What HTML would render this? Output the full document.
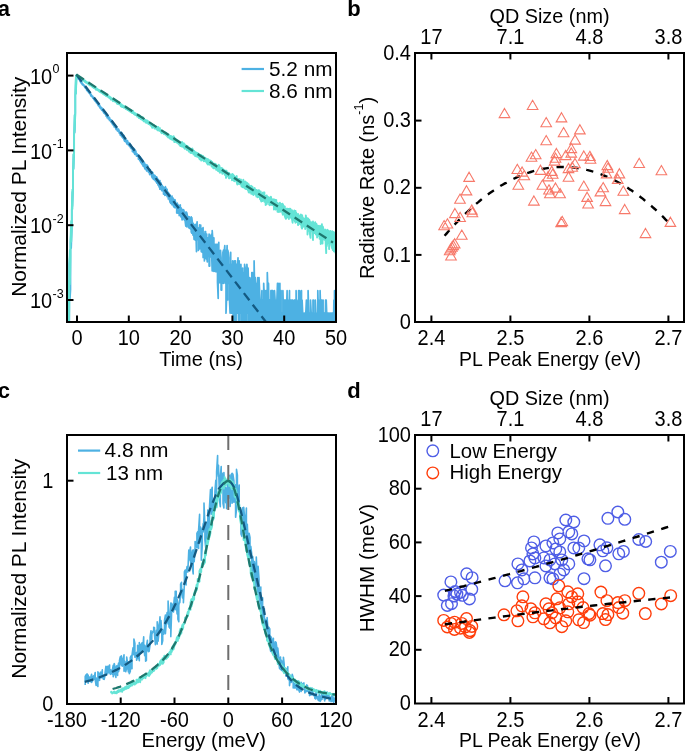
<!DOCTYPE html>
<html><head><meta charset="utf-8"><title>Figure</title>
<style>html,body{margin:0;padding:0;background:#fff;width:685px;height:752px;overflow:hidden;font-family:"Liberation Sans", sans-serif;}</style>
</head><body>
<svg width="685" height="752" viewBox="0 0 685 752" style="display:block;will-change:transform">
<rect width="685" height="752" fill="#fff"/>
<g font-family='"Liberation Sans", sans-serif' fill="#000">
<text x="-2.3" y="15.8" font-size="22" text-anchor="start" font-weight="bold">a</text>
<text x="347.3" y="15.8" font-size="22" text-anchor="start" font-weight="bold">b</text>
<text x="-2.2" y="397.8" font-size="22" text-anchor="start" font-weight="bold">c</text>
<text x="347.2" y="397.6" font-size="22" text-anchor="start" font-weight="bold">d</text>
</g>
<defs><clipPath id="ca"><rect x="67" y="53" width="269" height="269"/></clipPath><clipPath id="cc"><rect x="67" y="435" width="269" height="269"/></clipPath><clipPath id="cb"><rect x="415" y="53" width="269" height="269"/></clipPath><clipPath id="cd"><rect x="415" y="435" width="269" height="269"/></clipPath></defs>
<g clip-path="url(#ca)" fill="none" stroke-linejoin="round">
<path d="M66.9 344.9 L66.9 313.2 L67.5 313.2 L67.5 344.9 L68.1 344.9 L68.1 335.7 L68.7 300 L68.7 344.9 L69.3 344.9 L69.3 264.3 L69.9 255 L69.9 300 L70.5 289.6 L70.5 242.6 L71.2 228.4 L71.2 248.2 L71.8 229.7 L71.8 210.3 L72.4 191.9 L72.4 206.2 L73 189.4 L73 171.7 L73.5 154.4 L73.5 169.1 L74.1 153.1 L74.1 135.4 L74.7 114.8 L74.7 132.8 L75.3 113 L75.3 95.9 L75.9 76.1 L75.9 93.7 L76.5 76.4 L76.5 75.4 L77.1 76.1 L77.1 77.1 L77.8 78 L77.8 76.9 L78.4 77.7 L78.4 79 L79 79.4 L79 78.5 L79.6 79.3 L79.6 80.1 L80.1 81.5 L80.1 79.7 L80.7 81 L80.7 82 L81.3 83.2 L81.3 81.7 L81.9 82.4 L81.9 83.8 L82.5 84.9 L82.5 83.5 L83.1 84.2 L83.1 85.2 L83.7 85.7 L83.7 84.8 L84.4 85.6 L84.4 86.6 L85 87.7 L85 86.6 L85.6 87.1 L85.6 88.5 L86.2 88.8 L86.2 88.1 L86.7 89 L86.7 90.4 L87.3 90.3 L87.3 89.7 L87.9 90 L87.9 91.5 L88.5 92.2 L88.5 90.8 L89.1 91.9 L89.1 93.2 L89.7 93.7 L89.7 92.7 L90.3 93.2 L90.3 94.5 L90.9 95.8 L90.9 94 L91.6 95.3 L91.6 96.4 L92.2 97 L92.2 96 L92.8 96.2 L92.8 97.9 L93.3 98.6 L93.3 97.1 L93.9 98 L93.9 99.4 L94.5 100.1 L94.5 99 L95.1 99.9 L95.1 101.2 L95.7 101.7 L95.7 100 L96.3 101.2 L96.3 102.6 L96.9 103.2 L96.9 101.5 L97.5 102.7 L97.5 104 L98.2 105.5 L98.2 102.9 L98.8 104 L98.8 105.7 L99.4 106.8 L99.4 105.1 L99.9 105.4 L99.9 107.8 L100.5 108.3 L100.5 106.9 L101.1 107.6 L101.1 108.8 L101.7 110 L101.7 107.7 L102.3 108.5 L102.3 110.5 L102.9 111.2 L102.9 109.1 L103.5 110.7 L103.5 112.4 L104.1 113.1 L104.1 111.6 L104.8 111.5 L104.8 113.7 L105.4 114.3 L105.4 112.3 L106 113.6 L106 116 L106.5 116.3 L106.5 114.9 L107.1 115.6 L107.1 117.7 L107.7 117.6 L107.7 116.1 L108.3 116.2 L108.3 118.9 L108.9 119 L108.9 117.2 L109.5 117.5 L109.5 120.4 L110.1 120.4 L110.1 119 L110.7 119.7 L110.7 121.4 L111.4 122.4 L111.4 120.1 L112 121.6 L112 123.2 L112.6 124.2 L112.6 121.7 L113.1 123.6 L113.1 125 L113.7 125.6 L113.7 123.9 L114.3 124.3 L114.3 127 L114.9 126.9 L114.9 125.2 L115.5 126.1 L115.5 127.7 L116.1 129.5 L116.1 126.8 L116.7 127.2 L116.7 129.2 L117.3 130.6 L117.3 128.8 L118 129 L118 131.2 L118.6 131.6 L118.6 129.2 L119.2 130.7 L119.2 133.1 L119.7 133.5 L119.7 131.5 L120.3 132.2 L120.3 135.2 L120.9 135.4 L120.9 133.4 L121.5 134.2 L121.5 136.1 L122.1 137.1 L122.1 133.1 L122.7 135.3 L122.7 137.8 L123.3 137.3 L123.3 136.3 L123.9 135.4 L123.9 139.4 L124.6 141.1 L124.6 137.7 L125.2 138.7 L125.2 141.5 L125.8 141.9 L125.8 139.5 L126.4 140.5 L126.4 142.4 L126.9 143.9 L126.9 140.8 L127.5 140.6 L127.5 142.9 L128.1 144.6 L128.1 142 L128.7 142.6 L128.7 145 L129.3 146.1 L129.3 142.8 L129.9 144.5 L129.9 146.1 L130.5 147.7 L130.5 145.3 L131.2 145.4 L131.2 148.6 L131.8 148.6 L131.8 147 L132.4 147.5 L132.4 151.5 L133 151.8 L133 148.1 L133.5 148.1 L133.5 152.5 L134.1 152.9 L134.1 148.6 L134.7 149.6 L134.7 154.3 L135.3 154.1 L135.3 150.4 L135.9 151.2 L135.9 154.3 L136.5 156 L136.5 153.3 L137.1 153.9 L137.1 156.1 L137.8 156.1 L137.8 154.5 L138.4 155.1 L138.4 159.1 L139 158.3 L139 155.8 L139.6 156.9 L139.6 160.2 L140.1 161.1 L140.1 156.6 L140.7 158.1 L140.7 162.3 L141.3 163 L141.3 158.3 L141.9 160.1 L141.9 163.8 L142.5 164.8 L142.5 160.1 L143.1 161.7 L143.1 166.1 L143.7 165.9 L143.7 162.1 L144.4 162.7 L144.4 167.5 L145 168.9 L145 164.2 L145.6 164.3 L145.6 168.4 L146.2 169.8 L146.2 165.3 L146.7 165.2 L146.7 171 L147.3 169.5 L147.3 165.2 L147.9 166.3 L147.9 170.5 L148.5 172.1 L148.5 168.7 L149.1 168.5 L149.1 171.5 L149.7 174.7 L149.7 170.7 L150.3 169.7 L150.3 173.4 L150.9 174.3 L150.9 171.8 L151.6 172.3 L151.6 175.9 L152.2 177.6 L152.2 171.9 L152.8 172.7 L152.8 178.2 L153.3 179.1 L153.3 174.3 L153.9 174.8 L153.9 179.5 L154.5 179.8 L154.5 175.6 L155.1 175.7 L155.1 180.5 L155.7 181.3 L155.7 176.9 L156.3 176.8 L156.3 182 L156.9 183.2 L156.9 177.2 L157.5 180.2 L157.5 183.1 L158.2 185.3 L158.2 179.3 L158.8 181.5 L158.8 185.7 L159.4 187.4 L159.4 182.6 L159.9 180.5 L159.9 189.2 L160.5 188.6 L160.5 182.3 L161.1 183.5 L161.1 189 L161.7 190.5 L161.7 185.5 L162.3 185.3 L162.3 190 L162.9 191.1 L162.9 186.5 L163.5 187.2 L163.5 194.1 L164.1 193.4 L164.1 187.9 L164.8 189.2 L164.8 195.3 L165.4 195.2 L165.4 186.7 L166 188.5 L166 194.3 L166.5 195.1 L166.5 192.5 L167.1 189.3 L167.1 196.6 L167.7 196.8 L167.7 192.5 L168.3 192.4 L168.3 198.9 L168.9 197.1 L168.9 193.3 L169.5 195.4 L169.5 199.8 L170.1 202.3 L170.1 194.9 L170.7 197.8 L170.7 203.3 L171.4 203.3 L171.4 197.7 L172 196.1 L172 204.7 L172.6 204.1 L172.6 198.7 L173.1 198.2 L173.1 204.5 L173.7 206.8 L173.7 199.3 L174.3 201.2 L174.3 206.7 L174.9 207.7 L174.9 199.5 L175.5 201.9 L175.5 205.2 L176.1 207.9 L176.1 204.3 L176.7 205 L176.7 213 L177.3 210.1 L177.3 203.1 L178 209 L178 213.2 L178.6 211 L178.6 205.2 L179.2 206 L179.2 215.6 L179.7 213.4 L179.7 205.9 L180.3 205 L180.3 213 L180.9 216.9 L180.9 207.5 L181.5 209 L181.5 214.5 L182.1 219.9 L182.1 209.3 L182.7 210.3 L182.7 218.7 L183.3 216.8 L183.3 209.7 L183.9 210.1 L183.9 219.3 L184.6 220.2 L184.6 211.9 L185.2 212.3 L185.2 221.7 L185.8 226.1 L185.8 214.7 L186.4 212.2 L186.4 223.2 L186.9 227 L186.9 212.8 L187.5 217.3 L187.5 222.8 L188.1 225.6 L188.1 216.4 L188.7 216.8 L188.7 227.7 L189.3 228.2 L189.3 216.8 L189.9 221.4 L189.9 228.3 L190.5 228.9 L190.5 220.4 L191.2 216.8 L191.2 231.8 L191.8 233.2 L191.8 217.5 L192.4 222.9 L192.4 229.7 L193 235.1 L193 223 L193.5 224.6 L193.5 230.2 L194.1 239.5 L194.1 225.4 L194.7 224.9 L194.7 234.9 L195.3 240.2 L195.3 224.3 L195.9 225.9 L195.9 232.2 L196.5 251.6 L196.5 227.7 L197.1 221.8 L197.1 239.6 L197.8 233.8 L197.8 228 L198.4 228 L198.4 250.5 L199 241.9 L199 231.9 L199.6 224.9 L199.6 248.9 L200.1 245.6 L200.1 231.2 L200.7 225 L200.7 242.4 L201.3 251.8 L201.3 232.4 L201.9 228.5 L201.9 246.1 L202.5 252.4 L202.5 232.5 L203.1 227.7 L203.1 257.5 L203.7 250.7 L203.7 236.1 L204.4 233.9 L204.4 260.9 L205 248.9 L205 231.7 L205.6 231.7 L205.6 255.9 L206.2 258.8 L206.2 234 L206.7 234 L206.7 256.2 L207.3 262 L207.3 240.7 L207.9 237.9 L207.9 256.5 L208.5 254.2 L208.5 244 L209.1 234.1 L209.1 266.1 L209.7 266.1 L209.7 239.4 L210.3 235.3 L210.3 257 L210.9 254.6 L210.9 244.2 L211.6 234 L211.6 252.3 L212.2 270.9 L212.2 230.5 L212.8 239.4 L212.8 271 L213.3 260.4 L213.3 244.3 L213.9 237.9 L213.9 271.3 L214.5 263.7 L214.5 250.2 L215.1 244.3 L215.1 271.5 L215.7 271.6 L215.7 246.2 L216.3 244.3 L216.3 271.7 L216.9 271.8 L216.9 246.2 L217.5 244.3 L217.5 282.4 L218.2 298.5 L218.2 255.1 L218.8 242.4 L218.8 272 L219.4 277 L219.4 250.3 L219.9 255.1 L219.9 282.8 L220.5 272.2 L220.5 250.3 L221.1 257.9 L221.1 290.1 L221.7 290.2 L221.7 260.9 L222.3 268.1 L222.3 283.1 L222.9 277.3 L222.9 252.5 L223.5 250.1 L223.5 283.3 L224.1 277.4 L224.1 252.5 L224.8 245.7 L224.8 272.5 L225.4 283.4 L225.4 250 L226 257.8 L226 313.2 L226.5 300 L226.5 260.9 L227.1 245.6 L227.1 272.5 L227.7 300 L227.7 250 L228.3 252.4 L228.3 283.4 L228.9 283.4 L228.9 264.3 L229.5 268.1 L229.5 300 L230.1 313.2 L230.1 257.8 L230.7 252.4 L230.7 283.4 L231.4 313.2 L231.4 264.3 L232 264.3 L232 300 L232.6 313.2 L232.6 260.9 L233.1 268.1 L233.1 335.7 L233.7 290.7 L233.7 268.1 L234.3 260.9 L234.3 344.9 L234.9 300 L234.9 272.5 L235.5 260.9 L235.5 313.2 L236.1 335.7 L236.1 268.1 L236.7 264.3 L236.7 313.2 L237.3 313.2 L237.3 272.5 L238 257.8 L238 283.4 L238.6 335.7 L238.6 272.5 L239.2 260.9 L239.2 313.2 L239.7 335.7 L239.7 268.1 L240.3 268.1 L240.3 313.2 L240.9 313.2 L240.9 264.3 L241.5 283.4 L241.5 344.9 L242.1 335.7 L242.1 272.5 L242.7 268.1 L242.7 313.2 L243.3 335.7 L243.3 272.5 L243.9 272.5 L243.9 335.7 L244.6 335.7 L244.6 264.3 L245.2 268.1 L245.2 335.7 L245.8 335.7 L245.8 272.5 L246.4 277.5 L246.4 344.9 L246.9 335.7 L246.9 264.3 L247.5 272.5 L247.5 313.2 L248.1 313.2 L248.1 268.1 L248.7 290.7 L248.7 335.7 L249.3 313.2 L249.3 277.5 L249.9 283.4 L249.9 344.9 L250.5 344.9 L250.5 290.7 L251.2 277.5 L251.2 335.7 L251.8 335.7 L251.8 272.5 L252.4 272.5 L252.4 335.7 L253 344.9 L253 300 L253.5 277.5 L253.5 344.9 L254.1 335.7 L254.1 260.9 L254.7 290.7 L254.7 335.7 L255.3 335.7 L255.3 277.5 L255.9 283.4 L255.9 344.9 L256.5 344.9 L256.5 290.7 L257.1 283.4 L257.1 344.9 L257.8 344.9 L257.8 277.5 L258.4 290.7 L258.4 344.9 L259 335.7 L259 277.5 L259.6 290.7 L259.6 335.7 L260.1 335.7 L260.1 313.2 L260.7 300 L260.7 344.9 L261.3 335.7 L261.3 300 L261.9 290.7 L261.9 335.7 L262.5 335.7 L262.5 300 L263.1 300 L263.1 344.9 L263.7 344.9 L263.7 283.4 L264.4 300 L264.4 335.7 L265 344.9 L265 290.7 L265.6 300 L265.6 344.9 L266.2 335.7 L266.2 290.7 L266.7 300 L266.7 344.9 L267.3 344.9 L267.3 272.5 L267.9 290.7 L267.9 344.9 L268.5 344.9 L268.5 283.4 L269.1 313.2 L269.1 344.9 L269.7 344.9 L269.7 300 L270.3 300 L270.3 344.9 L270.9 344.9 L270.9 290.7 L271.6 290.7 L271.6 344.9 L272.2 344.9 L272.2 290.7 L272.8 290.7 L272.8 335.7 L273.3 344.9 L273.3 300 L273.9 313.2 L273.9 344.9 L274.5 335.7 L274.5 290.7 L275.1 300 L275.1 344.9 L275.7 344.9 L275.7 313.2 L276.3 300 L276.3 344.9 L276.9 344.9 L276.9 300 L277.5 283.4 L277.5 344.9 L278.2 344.9 L278.2 283.4 L278.8 290.7 L278.8 344.9 L279.4 344.9 L279.4 300 L279.9 283.4 L279.9 344.9 L280.5 344.9 L280.5 300 L281.1 290.7 L281.1 344.9 L281.7 344.9 L281.7 313.2 L282.3 313.2 L282.3 344.9 L282.9 344.9 L282.9 290.7 L283.5 313.2 L283.5 344.9 L284.1 344.9 L284.1 300 L284.8 300 L284.8 344.9 L285.4 344.9 L285.4 300 L286 300 L286 344.9 L286.5 344.9 L286.5 313.2 L287.1 290.7 L287.1 344.9 L287.7 344.9 L287.7 300 L288.3 335.7 L288.3 344.9 L288.9 335.7 L288.9 313.2 L289.5 290.7 L289.5 344.9 L290.1 344.9 L290.1 313.2 L290.7 300 L290.7 344.9 L291.4 344.9 L291.4 313.2 L292 300 L292 344.9 L292.6 344.9 L292.6 300 L293.1 313.2 L293.1 344.9 L293.7 344.9 L293.7 313.2 L294.3 300 L294.3 344.9 L294.9 344.9 L294.9 300 L295.5 313.2 L295.5 344.9 L296.1 344.9 L296.1 290.7 L296.7 335.7 L296.7 344.9 L297.3 344.9 L297.3 313.2 L298 300 L298 344.9 L298.6 344.9 L298.6 290.7 L299.2 313.2 L299.2 344.9 L299.7 344.9 L299.7 290.7 L300.3 300 L300.3 344.9 L300.9 344.9 L300.9 313.2 L301.5 290.7 L301.5 344.9 L302.1 344.9 L302.1 300 L302.7 313.2 L302.7 344.9 L303.3 344.9 L303.3 313.2 L303.9 335.7 L303.9 344.9 L304.6 344.9 L304.6 313.2 L305.2 313.2 L305.2 344.9 L305.8 344.9 L305.8 313.2 L306.4 300 L306.4 344.9 L306.9 344.9 L306.9 313.2 L307.5 313.2 L307.5 344.9 L308.1 344.9 L308.1 290.7 L308.7 313.2 L308.7 344.9 L309.3 344.9 L309.3 313.2 L309.9 313.2 L309.9 344.9 L310.5 344.9 L310.5 300 L311.2 313.2 L311.2 344.9 L311.8 344.9 L311.8 313.2 L312.4 313.2 L312.4 344.9 L313 344.9 L313 300 L313.5 300 L313.5 344.9 L314.1 344.9 L314.1 313.2 L314.7 335.7 L314.7 344.9 L315.3 344.9 L315.3 300 L315.9 313.2 L315.9 344.9 L316.5 344.9 L316.5 313.2 L317.1 335.7 L317.1 344.9 L317.8 344.9 L317.8 290.7 L318.4 313.2 L318.4 344.9 L319 344.9 L319 335.7 L319.6 300 L319.6 344.9 L320.1 344.9 L320.1 290.7 L320.7 313.2 L320.7 344.9 L321.3 344.9 L321.3 300 L321.9 300 L321.9 344.9 L322.5 344.9 L322.5 313.2 L323.1 300 L323.1 344.9 L323.7 344.9 L323.7 313.2 L324.4 313.2 L324.4 344.9 L325 344.9 L325 335.7 L325.6 300 L325.6 344.9 L326.2 344.9 L326.2 300 L326.7 313.2 L326.7 344.9 L327.3 344.9 L327.3 313.2 L327.9 313.2 L327.9 344.9 L328.5 344.9 L328.5 313.2 L329.1 335.7 L329.1 344.9 L329.7 344.9 L329.7 313.2 L330.3 313.2 L330.3 344.9 L330.9 344.9 L330.9 335.7 L331.6 313.2 L331.6 344.9 L332.2 344.9 L332.2 313.2 L332.8 313.2 L332.8 344.9 L333.3 344.9 L333.3 335.7 L333.9 300 L333.9 344.9 L334.5 344.9 L334.5 290.7 L335.1 300 L335.1 344.9 L335.7 344.9 L335.7 335.7" stroke="#4db1e3" stroke-width="1.7"/>
<path d="M66.9 329.8 L66.9 289.1 L67.5 289.1 L67.5 329.8 L68.1 344.9 L68.1 284.7 L68.7 280.9 L68.7 344.9 L69.3 306.8 L69.3 266.8 L69.9 250 L69.9 284.3 L70.5 256.8 L70.5 240 L71.2 221 L71.2 241.8 L71.8 227.9 L71.8 209.8 L72.4 189.6 L72.4 208.9 L73 187.2 L73 171.8 L73.5 154.3 L73.5 168.4 L74.1 152.6 L74.1 135.2 L74.7 115.3 L74.7 131 L75.3 112.9 L75.3 94.6 L75.9 76.8 L75.9 93.8 L76.5 76.4 L76.5 75 L77.1 75.9 L77.1 76.7 L77.8 76.9 L77.8 76 L78.4 76 L78.4 77.4 L79 77.8 L79 76.9 L79.6 77.3 L79.6 78.1 L80.1 78.6 L80.1 77.8 L80.7 77.8 L80.7 78.8 L81.3 79.2 L81.3 78.4 L81.9 78.9 L81.9 79.8 L82.5 80.5 L82.5 79.6 L83.1 79.6 L83.1 80.6 L83.7 80.5 L83.7 79.6 L84.4 80.7 L84.4 81.6 L85 81.9 L85 80.6 L85.6 81 L85.6 82.5 L86.2 82.7 L86.2 81.6 L86.7 82.1 L86.7 82.7 L87.3 83.5 L87.3 82.6 L87.9 82.4 L87.9 83.8 L88.5 84.2 L88.5 82.7 L89.1 82.8 L89.1 84.8 L89.7 85.3 L89.7 83.9 L90.3 84.3 L90.3 85.1 L90.9 85.6 L90.9 84.8 L91.6 85.4 L91.6 86.3 L92.2 86.5 L92.2 85.3 L92.8 85.7 L92.8 87.3 L93.3 87.2 L93.3 86.2 L93.9 86.8 L93.9 88 L94.5 88.1 L94.5 86.7 L95.1 87.4 L95.1 88.4 L95.7 89.5 L95.7 87.5 L96.3 88 L96.3 89.2 L96.9 90 L96.9 88.7 L97.5 89 L97.5 90.2 L98.2 90.3 L98.2 89.5 L98.8 89.8 L98.8 91 L99.4 91.7 L99.4 90.2 L99.9 90.2 L99.9 91.8 L100.5 92.1 L100.5 91 L101.1 91.4 L101.1 92.6 L101.7 92.7 L101.7 91.6 L102.3 91.7 L102.3 93.2 L102.9 93.8 L102.9 92 L103.5 92.3 L103.5 93.9 L104.1 94.4 L104.1 93.4 L104.8 93.8 L104.8 95 L105.4 95.2 L105.4 93.7 L106 94.4 L106 96 L106.5 95.6 L106.5 95.1 L107.1 94.8 L107.1 96.3 L107.7 96.6 L107.7 95.7 L108.3 96.1 L108.3 97.1 L108.9 97.7 L108.9 96.6 L109.5 96.5 L109.5 98.1 L110.1 98.4 L110.1 96.9 L110.7 97.4 L110.7 99.5 L111.4 98.9 L111.4 98.1 L112 98.3 L112 99.4 L112.6 100.6 L112.6 99 L113.1 99.1 L113.1 101.2 L113.7 100.5 L113.7 98.8 L114.3 99.9 L114.3 100.8 L114.9 101.6 L114.9 100.1 L115.5 100.8 L115.5 101.7 L116.1 102.1 L116.1 100.8 L116.7 101.7 L116.7 103.1 L117.3 103.9 L117.3 101.8 L118 102.2 L118 103.1 L118.6 104.1 L118.6 102.4 L119.2 102.6 L119.2 104.4 L119.7 104.4 L119.7 103.2 L120.3 103.7 L120.3 104.9 L120.9 106.3 L120.9 104.1 L121.5 104.4 L121.5 105.9 L122.1 107.1 L122.1 105 L122.7 105.7 L122.7 107.1 L123.3 107.1 L123.3 105.6 L123.9 106.5 L123.9 107.7 L124.6 107.4 L124.6 106.3 L125.2 106.8 L125.2 108 L125.8 108.9 L125.8 107.2 L126.4 107.4 L126.4 108.9 L126.9 109.1 L126.9 108.4 L127.5 109 L127.5 110 L128.1 110.1 L128.1 109.3 L128.7 109.1 L128.7 110.3 L129.3 111.1 L129.3 109.3 L129.9 110.6 L129.9 111.5 L130.5 111.8 L130.5 109.7 L131.2 110.2 L131.2 112.3 L131.8 112.8 L131.8 110.9 L132.4 111.6 L132.4 113.1 L133 113.1 L133 110.8 L133.5 112.1 L133.5 113.4 L134.1 114.3 L134.1 112.7 L134.7 113.3 L134.7 114.4 L135.3 114.9 L135.3 113.2 L135.9 113.9 L135.9 115.2 L136.5 115.5 L136.5 114 L137.1 114.6 L137.1 116.5 L137.8 116.3 L137.8 115.3 L138.4 115.5 L138.4 116.8 L139 118.1 L139 115.8 L139.6 115.3 L139.6 117.7 L140.1 118.3 L140.1 116.4 L140.7 116.8 L140.7 119 L141.3 119.3 L141.3 117.1 L141.9 117.2 L141.9 119.5 L142.5 120 L142.5 117.8 L143.1 117.4 L143.1 120.1 L143.7 121.2 L143.7 118.8 L144.4 119.5 L144.4 121.4 L145 121.1 L145 119.8 L145.6 120.3 L145.6 122.6 L146.2 121.9 L146.2 120.1 L146.7 121 L146.7 122.9 L147.3 122.3 L147.3 120.5 L147.9 121.2 L147.9 122.9 L148.5 124.1 L148.5 121.7 L149.1 121.9 L149.1 124.1 L149.7 124.5 L149.7 122.8 L150.3 123.5 L150.3 124.8 L150.9 125.7 L150.9 123.8 L151.6 123.6 L151.6 125.4 L152.2 127.9 L152.2 124.5 L152.8 125 L152.8 126.4 L153.3 126.7 L153.3 124.9 L153.9 124.9 L153.9 126.9 L154.5 128.4 L154.5 125.7 L155.1 126.5 L155.1 128.3 L155.7 128.6 L155.7 126.5 L156.3 126.7 L156.3 129 L156.9 129.3 L156.9 127 L157.5 127.3 L157.5 130.3 L158.2 130.2 L158.2 126.9 L158.8 128.6 L158.8 129.6 L159.4 130.8 L159.4 129.3 L159.9 128.2 L159.9 130.5 L160.5 131.4 L160.5 130.2 L161.1 130.3 L161.1 132.4 L161.7 133.2 L161.7 130.8 L162.3 131.1 L162.3 132.9 L162.9 132.8 L162.9 131.7 L163.5 131.8 L163.5 133.5 L164.1 134.3 L164.1 132.2 L164.8 132.8 L164.8 133.8 L165.4 134.5 L165.4 132.6 L166 132.7 L166 135.1 L166.5 135.6 L166.5 133.1 L167.1 134.6 L167.1 136.1 L167.7 136.8 L167.7 134.5 L168.3 134.9 L168.3 137.6 L168.9 137.2 L168.9 134.7 L169.5 135.5 L169.5 137.8 L170.1 138.7 L170.1 136.2 L170.7 135.9 L170.7 138.4 L171.4 139.4 L171.4 136.2 L172 136.6 L172 138.9 L172.6 139 L172.6 136.9 L173.1 137.9 L173.1 140.2 L173.7 140.1 L173.7 136.3 L174.3 138.5 L174.3 142 L174.9 140.7 L174.9 138.5 L175.5 138.7 L175.5 141.9 L176.1 142 L176.1 140.5 L176.7 140.3 L176.7 142.6 L177.3 142.3 L177.3 140.3 L178 140.6 L178 143.2 L178.6 144 L178.6 141.3 L179.2 141.8 L179.2 144.6 L179.7 144.9 L179.7 142.7 L180.3 142.5 L180.3 146 L180.9 146.1 L180.9 143.6 L181.5 143 L181.5 145.4 L182.1 146.7 L182.1 141.9 L182.7 144.4 L182.7 146.1 L183.3 146.9 L183.3 143.6 L183.9 143.3 L183.9 147.3 L184.6 148.7 L184.6 144.2 L185.2 145.4 L185.2 148.4 L185.8 148.4 L185.8 145.7 L186.4 145.7 L186.4 149.2 L186.9 150 L186.9 146.2 L187.5 146 L187.5 149.6 L188.1 150.2 L188.1 147.2 L188.7 148.3 L188.7 151.5 L189.3 150.4 L189.3 147.7 L189.9 148.4 L189.9 151.6 L190.5 153 L190.5 148.9 L191.2 149.3 L191.2 152.3 L191.8 153.1 L191.8 148.9 L192.4 148.5 L192.4 152.9 L193 152.7 L193 150 L193.5 151.3 L193.5 154.5 L194.1 153.5 L194.1 150.9 L194.7 151.7 L194.7 153.9 L195.3 156.2 L195.3 151.9 L195.9 153 L195.9 155.7 L196.5 155.6 L196.5 152.6 L197.1 152.8 L197.1 156.8 L197.8 156.7 L197.8 153.2 L198.4 153.7 L198.4 155.7 L199 157.9 L199 154.2 L199.6 154.6 L199.6 159.3 L200.1 157.4 L200.1 155.4 L200.7 155.1 L200.7 158.8 L201.3 160.6 L201.3 155.2 L201.9 155.9 L201.9 159.9 L202.5 159.6 L202.5 157.1 L203.1 156 L203.1 160 L203.7 161.2 L203.7 157.7 L204.4 157.4 L204.4 160.9 L205 161.3 L205 157.8 L205.6 158.1 L205.6 161.6 L206.2 161.2 L206.2 158.6 L206.7 159.2 L206.7 162.7 L207.3 163.7 L207.3 160.3 L207.9 159 L207.9 164.6 L208.5 164.4 L208.5 160 L209.1 161.4 L209.1 163.9 L209.7 164.8 L209.7 160.3 L210.3 161.2 L210.3 164.4 L210.9 164.2 L210.9 160.8 L211.6 161.8 L211.6 166.6 L212.2 166.3 L212.2 162 L212.8 163.1 L212.8 165.1 L213.3 168.4 L213.3 164.1 L213.9 164.2 L213.9 166.5 L214.5 167.2 L214.5 163.6 L215.1 163.6 L215.1 168.6 L215.7 167.9 L215.7 165.7 L216.3 164.6 L216.3 169.9 L216.9 169.3 L216.9 165.7 L217.5 166.1 L217.5 170.2 L218.2 171.2 L218.2 166.4 L218.8 164.8 L218.8 171.4 L219.4 170.9 L219.4 165.7 L219.9 168.3 L219.9 172.8 L220.5 169.9 L220.5 167.9 L221.1 169 L221.1 172.4 L221.7 172.2 L221.7 168 L222.3 168.3 L222.3 173.8 L222.9 172.5 L222.9 169.5 L223.5 169.5 L223.5 173.4 L224.1 173.2 L224.1 170.4 L224.8 170.5 L224.8 174.7 L225.4 175.5 L225.4 171.2 L226 170.8 L226 177.9 L226.5 175.9 L226.5 170.7 L227.1 172.7 L227.1 175.8 L227.7 174.8 L227.7 172.8 L228.3 174 L228.3 175.9 L228.9 178.2 L228.9 172.8 L229.5 173.7 L229.5 178.4 L230.1 177.2 L230.1 174.8 L230.7 174.7 L230.7 177.8 L231.4 177.8 L231.4 174.4 L232 174.4 L232 180.3 L232.6 177.5 L232.6 174 L233.1 175.3 L233.1 179.1 L233.7 180.2 L233.7 175.3 L234.3 176.7 L234.3 181.2 L234.9 180.8 L234.9 176.4 L235.5 177.4 L235.5 179.8 L236.1 180.9 L236.1 177.2 L236.7 176.1 L236.7 182.3 L237.3 184.5 L237.3 178.9 L238 179.2 L238 182.9 L238.6 183.1 L238.6 179.5 L239.2 178.9 L239.2 184.2 L239.7 183.1 L239.7 181.5 L240.3 180.5 L240.3 183.3 L240.9 184.6 L240.9 179.4 L241.5 181.8 L241.5 186.5 L242.1 186.1 L242.1 182.4 L242.7 182.1 L242.7 187.2 L243.3 187 L243.3 179.8 L243.9 182.9 L243.9 186.7 L244.6 188.3 L244.6 181.8 L245.2 181.6 L245.2 187.5 L245.8 188.9 L245.8 184.1 L246.4 182.4 L246.4 189 L246.9 189.2 L246.9 183.4 L247.5 183.3 L247.5 188.6 L248.1 190.7 L248.1 184.4 L248.7 184.2 L248.7 192.4 L249.3 192.6 L249.3 185.6 L249.9 187 L249.9 189.1 L250.5 191.9 L250.5 188 L251.2 185.8 L251.2 193.8 L251.8 193.7 L251.8 186.6 L252.4 186.6 L252.4 192 L253 194.5 L253 188.4 L253.5 190 L253.5 195 L254.1 191.8 L254.1 188.4 L254.7 188.1 L254.7 193.7 L255.3 193.8 L255.3 189.5 L255.9 190.1 L255.9 194.7 L256.5 196.6 L256.5 189.9 L257.1 190.4 L257.1 195.9 L257.8 197.2 L257.8 191.2 L258.4 190.2 L258.4 195.8 L259 196.8 L259 190.1 L259.6 191.6 L259.6 196.7 L260.1 199.4 L260.1 192.1 L260.7 191.5 L260.7 199.6 L261.3 201.6 L261.3 193.9 L261.9 193.6 L261.9 199.4 L262.5 201 L262.5 194.2 L263.1 192.4 L263.1 198.6 L263.7 199.3 L263.7 194.3 L264.4 192.4 L264.4 201.7 L265 200.7 L265 196.7 L265.6 195.9 L265.6 205.1 L266.2 202.3 L266.2 197.3 L266.7 195.5 L266.7 204.3 L267.3 201.3 L267.3 198.4 L267.9 196.8 L267.9 201.9 L268.5 202.2 L268.5 197.5 L269.1 197.4 L269.1 204.5 L269.7 205.3 L269.7 199.2 L270.3 198.6 L270.3 202.1 L270.9 204.6 L270.9 196.8 L271.6 199.7 L271.6 204.9 L272.2 203.9 L272.2 200.5 L272.8 199.6 L272.8 205.1 L273.3 205.2 L273.3 199.3 L273.9 200.5 L273.9 209.5 L274.5 205.5 L274.5 199.4 L275.1 202.4 L275.1 208 L275.7 209.6 L275.7 199.9 L276.3 200.2 L276.3 209.1 L276.9 208.7 L276.9 203.2 L277.5 203 L277.5 211.8 L278.2 208.9 L278.2 203.4 L278.8 205 L278.8 212 L279.4 211.2 L279.4 205.2 L279.9 202.6 L279.9 211.9 L280.5 211.7 L280.5 203.7 L281.1 205.3 L281.1 210 L281.7 210.7 L281.7 205.3 L282.3 203.7 L282.3 212.7 L282.9 214.8 L282.9 204.2 L283.5 206.2 L283.5 209.9 L284.1 213 L284.1 206.8 L284.8 206.4 L284.8 215.9 L285.4 217.9 L285.4 210.2 L286 209 L286 218.9 L286.5 215.5 L286.5 210.1 L287.1 208.6 L287.1 216.7 L287.7 217.2 L287.7 210.3 L288.3 209.1 L288.3 216.9 L288.9 219 L288.9 209 L289.5 208.8 L289.5 215.7 L290.1 217.3 L290.1 208.7 L290.7 209.4 L290.7 217 L291.4 218.2 L291.4 210.5 L292 210.3 L292 219.1 L292.6 222.7 L292.6 211.3 L293.1 212.2 L293.1 217.9 L293.7 219.4 L293.7 213.5 L294.3 210.5 L294.3 219.6 L294.9 221.4 L294.9 211.8 L295.5 210.9 L295.5 222.8 L296.1 218.8 L296.1 212.5 L296.7 215.3 L296.7 222.1 L297.3 221.8 L297.3 215.8 L298 214 L298 225.1 L298.6 224.2 L298.6 218 L299.2 215.5 L299.2 220.1 L299.7 222.7 L299.7 215.9 L300.3 216 L300.3 223.7 L300.9 224.7 L300.9 214.5 L301.5 216.2 L301.5 227.3 L302.1 228.6 L302.1 215.1 L302.7 218.5 L302.7 227 L303.3 226.6 L303.3 218.9 L303.9 218.3 L303.9 226.3 L304.6 225.8 L304.6 219.1 L305.2 220.4 L305.2 229.1 L305.8 227.1 L305.8 215.5 L306.4 219.9 L306.4 226.6 L306.9 226.8 L306.9 221.9 L307.5 218.3 L307.5 234.5 L308.1 228.5 L308.1 218.4 L308.7 221 L308.7 230.9 L309.3 228.2 L309.3 219.7 L309.9 221.7 L309.9 233.5 L310.5 237.9 L310.5 223 L311.2 222.2 L311.2 230.7 L311.8 227.6 L311.8 222.4 L312.4 226.3 L312.4 228.3 L313 240 L313 221.5 L313.5 227 L313.5 233.5 L314.1 233 L314.1 223.2 L314.7 223.7 L314.7 230.2 L315.3 233.2 L315.3 222.3 L315.9 226.4 L315.9 234.6 L316.5 232.2 L316.5 224 L317.1 226.2 L317.1 237.6 L317.8 233.6 L317.8 225.9 L318.4 226 L318.4 234.4 L319 235.8 L319 225.7 L319.6 229 L319.6 238.7 L320.1 234.7 L320.1 228.1 L320.7 226 L320.7 244.1 L321.3 241.5 L321.3 227.5 L321.9 224.2 L321.9 240 L322.5 243.5 L322.5 226.3 L323.1 227.3 L323.1 237.9 L323.7 238 L323.7 230.2 L324.4 231.9 L324.4 239.7 L325 239.7 L325 229.5 L325.6 233.2 L325.6 240.7 L326.2 253.1 L326.2 230.6 L326.7 231.1 L326.7 246.3 L327.3 242.7 L327.3 229.7 L327.9 231.3 L327.9 242 L328.5 243 L328.5 230.8 L329.1 232 L329.1 249.1 L329.7 242.3 L329.7 233.2 L330.3 231 L330.3 243.3 L330.9 240.1 L330.9 231.6 L331.6 234.6 L331.6 245.4 L332.2 248.7 L332.2 231.2 L332.8 234.7 L332.8 250 L333.3 244.8 L333.3 231.9 L333.9 234.9 L333.9 251.4 L334.5 251.6 L334.5 232.5 L335.1 234.3 L335.1 245.1 L335.7 253.1 L335.7 234.4" stroke="#64e4d6" stroke-width="1.9"/>
<path d="M76.3 74.5 L267.9 324.5" stroke="#145a82" stroke-width="2.3" stroke-dasharray="9 5.5"/>
<path d="M76.3 74.5 L333 242.6" stroke="#1e786e" stroke-width="2.3" stroke-dasharray="9 5.5"/>
</g>
<rect x="67" y="53" width="269" height="269" fill="none" stroke="#000" stroke-width="2"/>
<line x1="67" y1="75.6" x2="73.5" y2="75.6" stroke="#000" stroke-width="2"/>
<line x1="67" y1="150.4" x2="73.5" y2="150.4" stroke="#000" stroke-width="2"/>
<line x1="67" y1="225.2" x2="73.5" y2="225.2" stroke="#000" stroke-width="2"/>
<line x1="67" y1="300" x2="73.5" y2="300" stroke="#000" stroke-width="2"/>
<line x1="77" y1="322" x2="77" y2="315.5" stroke="#000" stroke-width="2"/>
<line x1="128.8" y1="322" x2="128.8" y2="315.5" stroke="#000" stroke-width="2"/>
<line x1="180.6" y1="322" x2="180.6" y2="315.5" stroke="#000" stroke-width="2"/>
<line x1="232.4" y1="322" x2="232.4" y2="315.5" stroke="#000" stroke-width="2"/>
<line x1="284.2" y1="322" x2="284.2" y2="315.5" stroke="#000" stroke-width="2"/>
<line x1="336" y1="322" x2="336" y2="315.5" stroke="#000" stroke-width="2"/>
<g font-family='"Liberation Sans", sans-serif' fill="#000">
<text transform="translate(30 83.8) scale(1 1.06)" x="0" y="0" font-size="20" text-anchor="start" font-weight="normal">10</text>
<text x="52.5" y="73.3" font-size="12.5" text-anchor="start" font-weight="normal">0</text>
<text transform="translate(30 158.6) scale(1 1.06)" x="0" y="0" font-size="20" text-anchor="start" font-weight="normal">10</text>
<text x="52.5" y="148.1" font-size="12.5" text-anchor="start" font-weight="normal">-1</text>
<text transform="translate(30 233.4) scale(1 1.06)" x="0" y="0" font-size="20" text-anchor="start" font-weight="normal">10</text>
<text x="52.5" y="222.9" font-size="12.5" text-anchor="start" font-weight="normal">-2</text>
<text transform="translate(30 308.2) scale(1 1.06)" x="0" y="0" font-size="20" text-anchor="start" font-weight="normal">10</text>
<text x="52.5" y="297.7" font-size="12.5" text-anchor="start" font-weight="normal">-3</text>
<text transform="translate(77 345.4) scale(1 1.06)" x="0" y="0" font-size="20" text-anchor="middle" font-weight="normal">0</text>
<text transform="translate(128.8 345.4) scale(1 1.06)" x="0" y="0" font-size="20" text-anchor="middle" font-weight="normal">10</text>
<text transform="translate(180.6 345.4) scale(1 1.06)" x="0" y="0" font-size="20" text-anchor="middle" font-weight="normal">20</text>
<text transform="translate(232.4 345.4) scale(1 1.06)" x="0" y="0" font-size="20" text-anchor="middle" font-weight="normal">30</text>
<text transform="translate(284.2 345.4) scale(1 1.06)" x="0" y="0" font-size="20" text-anchor="middle" font-weight="normal">40</text>
<text transform="translate(336 345.4) scale(1 1.06)" x="0" y="0" font-size="20" text-anchor="middle" font-weight="normal">50</text>
<text transform="translate(201 365.8) scale(1 1.04)" x="0" y="0" font-size="20" text-anchor="middle" font-weight="normal">Time (ns)</text>
<text transform="translate(25.8 296.8) rotate(-90) scale(1 1.04)" x="0" y="0" font-size="20" textLength="220" lengthAdjust="spacingAndGlyphs">Normalized PL Intensity</text>
<line x1="241.6" y1="69" x2="264" y2="69" stroke="#4db1e3" stroke-width="2.2"/>
<line x1="241.6" y1="91" x2="264" y2="91" stroke="#64e4d6" stroke-width="2.2"/>
<text transform="translate(269 76) scale(1 1.04)" x="0" y="0" font-size="20" text-anchor="start" font-weight="normal" textLength="63.5" lengthAdjust="spacingAndGlyphs">5.2 nm</text>
<text transform="translate(269 98.4) scale(1 1.04)" x="0" y="0" font-size="20" text-anchor="start" font-weight="normal" textLength="63.5" lengthAdjust="spacingAndGlyphs">8.6 nm</text>
</g>
<path d="M444.6 235.8 L446.5 233.6 L448.3 231.5 L450.2 229.4 L452.1 227.3 L454 225.3 L455.8 223.3 L457.7 221.3 L459.6 219.4 L461.4 217.5 L463.3 215.7 L465.2 213.8 L467.1 212 L468.9 210.3 L470.8 208.6 L472.7 206.9 L474.5 205.3 L476.4 203.6 L478.3 202.1 L480.2 200.5 L482 199 L483.9 197.5 L485.8 196.1 L487.6 194.7 L489.5 193.3 L491.4 192 L493.3 190.7 L495.1 189.4 L497 188.2 L498.9 187 L500.7 185.8 L502.6 184.7 L504.5 183.6 L506.4 182.6 L508.2 181.5 L510.1 180.5 L512 179.6 L513.8 178.7 L515.7 177.8 L517.6 176.9 L519.5 176.1 L521.3 175.3 L523.2 174.6 L525.1 173.9 L526.9 173.2 L528.8 172.6 L530.7 172 L532.6 171.4 L534.4 170.9 L536.3 170.3 L538.2 169.9 L540 169.4 L541.9 169 L543.8 168.7 L545.7 168.4 L547.5 168.1 L549.4 167.8 L551.3 167.6 L553.1 167.4 L555 167.2 L556.9 167.1 L558.8 167 L560.6 167 L562.5 166.9 L564.4 167 L566.2 167 L568.1 167.1 L570 167.2 L571.9 167.4 L573.7 167.6 L575.6 167.8 L577.5 168 L579.3 168.3 L581.2 168.7 L583.1 169 L585 169.4 L586.8 169.9 L588.7 170.3 L590.6 170.8 L592.4 171.4 L594.3 171.9 L596.2 172.5 L598.1 173.2 L599.9 173.9 L601.8 174.6 L603.7 175.3 L605.5 176.1 L607.4 176.9 L609.3 177.8 L611.2 178.6 L613 179.6 L614.9 180.5 L616.8 181.5 L618.6 182.5 L620.5 183.6 L622.4 184.7 L624.3 185.8 L626.1 186.9 L628 188.1 L629.9 189.4 L631.7 190.6 L633.6 191.9 L635.5 193.3 L637.4 194.6 L639.2 196 L641.1 197.5 L643 198.9 L644.8 200.5 L646.7 202 L648.6 203.6 L650.5 205.2 L652.3 206.8 L654.2 208.5 L656.1 210.2 L657.9 212 L659.8 213.8 L661.7 215.6 L663.6 217.4 L665.4 219.3 L667.3 221.2" fill="none" stroke="#000" stroke-width="2.4" stroke-dasharray="7.3 7.69"/>
<path d="M444.1 220.5L449.4 229.7L438.8 229.7ZM447.4 218.8L452.7 228L442.1 228ZM454.9 208.4L460.2 217.6L449.6 217.6ZM460.1 212.3L465.4 221.5L454.8 221.5ZM471.8 204.9L477.1 214.1L466.5 214.1ZM472.4 207.5L477.7 216.7L467.1 216.7ZM460 194.1L465.3 203.3L454.7 203.3ZM466.5 185.7L471.8 194.9L461.2 194.9ZM469.1 172.2L474.4 181.4L463.8 181.4ZM461.8 230L467.1 239.2L456.5 239.2ZM454.7 238.7L460 247.9L449.4 247.9ZM453.2 240.4L458.5 249.6L447.9 249.6ZM451.9 242.1L457.2 251.3L446.6 251.3ZM450.6 243.8L455.9 253L445.3 253ZM449.7 245.6L455 254.8L444.4 254.8ZM451 250.8L456.3 260L445.7 260ZM504.5 108.4L509.8 117.6L499.2 117.6ZM532.6 100.3L537.9 109.5L527.3 109.5ZM546.2 117.5L551.5 126.7L540.9 126.7ZM561.5 112.7L566.8 121.9L556.2 121.9ZM563.6 127.5L568.9 136.7L558.3 136.7ZM579.9 124.7L585.2 133.9L574.6 133.9ZM575.1 134.9L580.4 144.1L569.8 144.1ZM546.2 135.5L551.5 144.7L540.9 144.7ZM531.5 152L536.8 161.2L526.2 161.2ZM535.7 149.6L541 158.8L530.4 158.8ZM517.3 164.3L522.6 173.5L512 173.5ZM522.1 166.9L527.4 176.1L516.8 176.1ZM524.3 170.5L529.6 179.7L519 179.7ZM518.3 180.1L523.6 189.3L513 189.3ZM540.5 165.2L545.8 174.4L535.2 174.4ZM533.9 195.9L539.2 205.1L528.6 205.1ZM571.3 143.4L576.6 152.6L566 152.6ZM571.3 147.9L576.6 157.1L566 157.1ZM556.4 148.4L561.7 157.6L551.1 157.6ZM565.7 150.4L571 159.6L560.4 159.6ZM583.8 150.9L589.1 160.1L578.5 160.1ZM589.9 151.3L595.2 160.5L584.6 160.5ZM590.5 154.1L595.8 163.3L585.2 163.3ZM555.5 153.1L560.8 162.3L550.2 162.3ZM554.6 155.9L559.9 165.1L549.3 165.1ZM575 158.4L580.3 167.6L569.7 167.6ZM568.5 163.4L573.8 172.6L563.2 172.6ZM572.2 162.1L577.5 171.3L566.9 171.3ZM551.8 166.2L557.1 175.4L546.5 175.4ZM552.7 169L558 178.2L547.4 178.2ZM568.5 172.1L573.8 181.3L563.2 181.3ZM548 171.7L553.3 180.9L542.7 180.9ZM542.4 180.1L547.7 189.3L537.1 189.3ZM583.8 181.1L589.1 190.3L578.5 190.3ZM549 184.8L554.3 194L543.7 194ZM555.5 182.9L560.8 192.1L550.2 192.1ZM560.1 188.5L565.4 197.7L554.8 197.7ZM549.9 188.5L555.2 197.7L544.6 197.7ZM587.1 192.2L592.4 201.4L581.8 201.4ZM588.1 198.8L593.4 208L582.8 208ZM561.1 217.4L566.4 226.6L555.8 226.6ZM562.3 216.4L567.6 225.6L557 225.6ZM639.2 158.3L644.5 167.5L633.9 167.5ZM661.4 165.6L666.7 174.8L656.1 174.8ZM607.3 160.4L612.6 169.6L602 169.6ZM608 163.1L613.3 172.3L602.7 172.3ZM606.6 168.7L611.9 177.9L601.3 177.9ZM619.4 168.7L624.7 177.9L614.1 177.9ZM617.7 174.2L623 183.4L612.4 183.4ZM603.2 182.6L608.5 191.8L597.9 191.8ZM600.4 186.7L605.7 195.9L595.1 195.9ZM623.3 186L628.6 195.2L618 195.2ZM605.5 196.4L610.8 205.6L600.2 205.6ZM624.7 204.4L630 213.6L619.4 213.6ZM670.4 217.2L675.7 226.4L665.1 226.4ZM645.5 228.4L650.8 237.6L640.2 237.6Z" fill="none" stroke="#f7796a" stroke-width="1.1"/>
<rect x="415" y="53" width="269" height="269" fill="none" stroke="#000" stroke-width="2"/>
<line x1="415" y1="254.9" x2="421.5" y2="254.9" stroke="#000" stroke-width="2"/>
<line x1="415" y1="187.8" x2="421.5" y2="187.8" stroke="#000" stroke-width="2"/>
<line x1="415" y1="120.6" x2="421.5" y2="120.6" stroke="#000" stroke-width="2"/>
<line x1="431.4" y1="322" x2="431.4" y2="315.5" stroke="#000" stroke-width="2"/>
<line x1="431.4" y1="53" x2="431.4" y2="59.5" stroke="#000" stroke-width="2"/>
<line x1="510.4" y1="322" x2="510.4" y2="315.5" stroke="#000" stroke-width="2"/>
<line x1="510.4" y1="53" x2="510.4" y2="59.5" stroke="#000" stroke-width="2"/>
<line x1="589.4" y1="322" x2="589.4" y2="315.5" stroke="#000" stroke-width="2"/>
<line x1="589.4" y1="53" x2="589.4" y2="59.5" stroke="#000" stroke-width="2"/>
<line x1="668.4" y1="322" x2="668.4" y2="315.5" stroke="#000" stroke-width="2"/>
<line x1="668.4" y1="53" x2="668.4" y2="59.5" stroke="#000" stroke-width="2"/>
<g font-family='"Liberation Sans", sans-serif' fill="#000">
<text transform="translate(411 328.6) scale(1 1.06)" x="0" y="0" font-size="20" text-anchor="end" font-weight="normal">0</text>
<text transform="translate(411 261.5) scale(1 1.06)" x="0" y="0" font-size="20" text-anchor="end" font-weight="normal">0.1</text>
<text transform="translate(411 194.3) scale(1 1.06)" x="0" y="0" font-size="20" text-anchor="end" font-weight="normal">0.2</text>
<text transform="translate(411 127.2) scale(1 1.06)" x="0" y="0" font-size="20" text-anchor="end" font-weight="normal">0.3</text>
<text transform="translate(411 60.1) scale(1 1.06)" x="0" y="0" font-size="20" text-anchor="end" font-weight="normal">0.4</text>
<text transform="translate(431.4 345.4) scale(1 1.06)" x="0" y="0" font-size="20" text-anchor="middle" font-weight="normal">2.4</text>
<text transform="translate(510.4 345.4) scale(1 1.06)" x="0" y="0" font-size="20" text-anchor="middle" font-weight="normal">2.5</text>
<text transform="translate(589.4 345.4) scale(1 1.06)" x="0" y="0" font-size="20" text-anchor="middle" font-weight="normal">2.6</text>
<text transform="translate(668.4 345.4) scale(1 1.06)" x="0" y="0" font-size="20" text-anchor="middle" font-weight="normal">2.7</text>
<text transform="translate(431.4 44) scale(1 1.06)" x="0" y="0" font-size="20" text-anchor="middle" font-weight="normal">17</text>
<text transform="translate(510.4 44) scale(1 1.06)" x="0" y="0" font-size="20" text-anchor="middle" font-weight="normal">7.1</text>
<text transform="translate(589.4 44) scale(1 1.06)" x="0" y="0" font-size="20" text-anchor="middle" font-weight="normal">4.8</text>
<text transform="translate(668.4 44) scale(1 1.06)" x="0" y="0" font-size="20" text-anchor="middle" font-weight="normal">3.8</text>
<text transform="translate(549.5 22.6) scale(1 1.04)" x="0" y="0" font-size="20" text-anchor="middle" font-weight="normal" textLength="120" lengthAdjust="spacingAndGlyphs">QD Size (nm)</text>
<text transform="translate(549.9 365.6) scale(1 1.04)" x="0" y="0" font-size="20" text-anchor="middle" font-weight="normal" textLength="182" lengthAdjust="spacingAndGlyphs">PL Peak Energy (eV)</text>
<text transform="translate(374.2 279.1) rotate(-90) scale(1 1.04)" x="0" y="0" font-size="20">Radiative Rate (ns<tspan dy="-10.5" font-size="12.5">-1</tspan><tspan dy="10.5">)</tspan></text>
</g>
<g clip-path="url(#cc)" fill="none" stroke-linejoin="round">
<path d="M85.2 684.9 L85.2 676.3 L86.2 674.6 L86.2 679.7 L87.1 680.6 L87.1 673.9 L88.1 675.2 L88.1 683.2 L88.9 680.8 L88.9 676.6 L89.8 677.9 L89.8 680.7 L90.7 681.7 L90.7 677.5 L91.6 674.3 L91.6 682.5 L92.5 680.8 L92.5 677.7 L93.4 675.9 L93.4 677.6 L94.2 679.2 L94.2 677 L95.2 672.5 L95.2 679.8 L96.1 685.5 L96.1 677.9 L96.9 680.7 L96.9 683.2 L97.9 686.5 L97.9 671.8 L98.8 674 L98.8 680.5 L99.6 680.2 L99.6 673.9 L100.6 672.2 L100.6 677.8 L101.5 677.6 L101.5 676 L102.3 669.9 L102.3 676.1 L103.3 679.1 L103.3 675 L104.2 677.6 L104.2 679.4 L105 675.7 L105 673.1 L105.9 666.4 L105.9 675 L106.9 672.6 L106.9 666.9 L107.7 666.3 L107.7 673.9 L108.6 670.7 L108.6 666.8 L109.6 665 L109.6 672.6 L110.5 674.4 L110.5 669.8 L111.5 670.5 L111.5 672.6 L112.3 674.2 L112.3 670.5 L113.2 665.3 L113.2 676.7 L114.2 672.7 L114.2 663.5 L115 666.8 L115 672.9 L115.9 677.4 L115.9 670.3 L116.8 665.7 L116.8 671.4 L117.6 675.4 L117.6 668.2 L118.6 663.1 L118.6 671.7 L119.5 667.4 L119.5 660.3 L120.3 656.7 L120.3 660.8 L121.3 665.1 L121.3 655.7 L122.2 661.7 L122.2 666.3 L123 664.7 L123 660.3 L124 654.8 L124 671.2 L124.9 668.2 L124.9 661.4 L125.7 664.6 L125.7 671.8 L126.7 668.1 L126.7 657.1 L127.6 663.7 L127.6 666.6 L128.4 671.9 L128.4 661.7 L129.3 668.2 L129.3 673.7 L130.3 671.5 L130.3 657.5 L131.1 655.8 L131.1 668.5 L132 668.6 L132 655.2 L133 647.8 L133 654.8 L133.9 654.1 L133.9 639 L134.9 643.4 L134.9 657.3 L135.7 656.3 L135.7 654.2 L136.6 652.4 L136.6 660.3 L137.6 657.5 L137.6 645.2 L138.4 647 L138.4 655.8 L139.3 660.7 L139.3 642.6 L140.2 647.1 L140.2 652.8 L141.1 652.9 L141.1 644.6 L142 642.8 L142 649.7 L142.9 651.7 L142.9 646.2 L143.7 636.9 L143.7 646.4 L144.7 655.7 L144.7 645.4 L145.6 649.6 L145.6 661.2 L146.4 660.4 L146.4 646.5 L147.4 640.4 L147.4 647.7 L148.3 651.6 L148.3 646.6 L149.1 647.7 L149.1 651.5 L150.1 644.4 L150.1 637.1 L151 630.7 L151 639.4 L151.8 639.1 L151.8 634.4 L152.8 631.4 L152.8 632.6 L153.7 630.1 L153.7 627.3 L154.5 627.7 L154.5 634.9 L155.4 644.7 L155.4 639.9 L156.4 630.3 L156.4 640.5 L157.2 644.1 L157.2 621.7 L158.1 627.2 L158.1 641.2 L159.1 631 L159.1 628.4 L160 616.9 L160 632.8 L161 630.9 L161 620.5 L161.8 632.1 L161.8 644.4 L162.7 640.9 L162.7 629.9 L163.6 632.4 L163.6 634.3 L164.5 627.8 L164.5 620.4 L165.4 615.1 L165.4 633.8 L166.3 622.5 L166.3 620.8 L167.1 612.5 L167.1 616.1 L168.1 623.9 L168.1 601 L169 622.1 L169 626.9 L169.8 628.1 L169.8 620.2 L170.8 603.1 L170.8 636.6 L171.7 610 L171.7 603.2 L172.5 606 L172.5 611 L173.5 612 L173.5 607 L174.4 597.4 L174.4 606.1 L175.2 609.8 L175.2 591.3 L176.2 591.2 L176.2 602.5 L177.1 614 L177.1 598.7 L177.9 606.8 L177.9 619.3 L178.8 621.7 L178.8 605.5 L179.8 598.9 L179.8 602.8 L180.6 592.8 L180.6 584.1 L181.5 582.3 L181.5 589.9 L182.5 598 L182.5 589.3 L183.4 591.1 L183.4 602.7 L184.4 583.9 L184.4 571.8 L185.2 570 L185.2 575 L186.1 584.9 L186.1 572.6 L187.1 566.5 L187.1 572 L187.9 572 L187.9 570.1 L188.8 550.1 L188.8 560.3 L189.7 554.1 L189.7 552 L190.5 547 L190.5 561.5 L191.5 566.2 L191.5 556.6 L192.4 550.5 L192.4 568.2 L193.2 574 L193.2 549.9 L194.2 552.9 L194.2 561.8 L195.1 546.9 L195.1 541.5 L195.9 542.6 L195.9 543.2 L196.9 547.9 L196.9 533.3 L197.8 531.5 L197.8 536.4 L198.6 548.5 L198.6 529.9 L199.6 514.4 L199.6 539.4 L200.5 541.8 L200.5 527 L201.3 530 L201.3 560.2 L202.3 545.4 L202.3 531.9 L203.2 523.5 L203.2 531.9 L204 515.7 L204 503.1 L204.9 525.6 L204.9 540 L205.9 549.2 L205.9 536.5 L206.8 522.1 L206.8 538.4 L207.8 532.8 L207.8 510 L208.6 519.8 L208.6 535.4 L209.5 525.8 L209.5 506.5 L210.5 489.6 L210.5 500.2 L211.3 514.2 L211.3 492 L212.2 487.2 L212.2 505.9 L213.1 514.6 L213.1 501.8 L214 500.4 L214 514 L214.9 506.2 L214.9 492.1 L215.8 480.2 L215.8 492 L216.6 500 L216.6 471.5 L217.6 455.5 L217.6 468.7 L218.5 476.3 L218.5 465.2 L219.3 491.8 L219.3 498.6 L220.3 506.7 L220.3 476.8 L221.2 466.5 L221.2 478.5 L222 485.3 L222 473 L223 476 L223 503.3 L223.9 508 L223.9 472.6 L224.7 490.9 L224.7 492.4 L225.7 502.6 L225.7 487.5 L226.6 493.4 L226.6 508.6 L227.4 494.7 L227.4 480.2 L228.3 478.3 L228.3 495.3 L229.3 497.9 L229.3 475.4 L230.1 488.5 L230.1 506.5 L231 487.3 L231 474.9 L232 473.3 L232 503.3 L232.9 500.7 L232.9 474.1 L233.9 480.8 L233.9 502.3 L234.7 496.3 L234.7 490.4 L235.6 484.7 L235.6 517.3 L236.5 509.3 L236.5 469.4 L237.4 475.1 L237.4 487.5 L238.3 503.2 L238.3 498.4 L239.2 485 L239.2 506.2 L240 512.6 L240 507.5 L241 511.6 L241 533.9 L241.9 536.3 L241.9 524.7 L242.7 507.9 L242.7 525.1 L243.7 527.8 L243.7 507.2 L244.6 517.5 L244.6 534.1 L245.4 532 L245.4 526.8 L246.4 508.1 L246.4 537 L247.3 550.9 L247.3 524.2 L248.1 541.4 L248.1 548 L249.1 562.5 L249.1 533.2 L250 537.5 L250 556.3 L250.8 558.5 L250.8 546.4 L251.7 553.9 L251.7 576.8 L252.7 562.2 L252.7 556.6 L253.5 563.5 L253.5 575 L254.4 584.5 L254.4 561.6 L255.4 568 L255.4 584.2 L256.3 586.5 L256.3 557.1 L257.3 581.4 L257.3 593.5 L258.1 579.9 L258.1 566.4 L259 579.1 L259 598.2 L260 602.4 L260 589.5 L260.8 587 L260.8 608.2 L261.7 617.2 L261.7 604.3 L262.6 597.8 L262.6 606.6 L263.5 622.5 L263.5 608.9 L264.4 608.8 L264.4 624 L265.3 625.6 L265.3 619.3 L266.1 621.5 L266.1 628.4 L267.1 631 L267.1 617.5 L268 629.9 L268 638.7 L268.8 635.6 L268.8 627.2 L269.8 628.9 L269.8 646.6 L270.7 651.4 L270.7 636.4 L271.5 637.8 L271.5 644.2 L272.5 652.8 L272.5 643.4 L273.4 638.2 L273.4 649.7 L274.2 652.3 L274.2 647.3 L275.2 641.8 L275.2 654 L276.1 645.8 L276.1 642.3 L276.9 648 L276.9 650.9 L277.8 663.2 L277.8 648.1 L278.8 657.6 L278.8 662.7 L279.6 668.6 L279.6 661.3 L280.5 657 L280.5 669.2 L281.5 670.1 L281.5 660.2 L282.4 663.6 L282.4 670.9 L283.4 663.1 L283.4 657.2 L284.2 664 L284.2 668 L285.1 672.6 L285.1 668.5 L286 668.9 L286 676.3 L286.9 675.8 L286.9 670.1 L287.8 666.7 L287.8 678.8 L288.7 679.8 L288.7 673.7 L289.5 676.8 L289.5 685.6 L290.5 678.3 L290.5 677.1 L291.4 676.2 L291.4 682.4 L292.2 678.2 L292.2 674.2 L293.2 677.7 L293.2 687.9 L294.1 685.7 L294.1 683.2 L294.9 683.5 L294.9 688.2 L295.9 686.8 L295.9 681.4 L296.8 682.5 L296.8 689.7 L297.6 689.8 L297.6 681.1 L298.6 685 L298.6 689.6 L299.5 692.1 L299.5 689.8 L300.3 686 L300.3 690.2 L301.2 691.3 L301.2 682.2 L302.2 684.5 L302.2 687.1 L303 686.9 L303 684.4 L303.9 682.9 L303.9 685.3 L304.9 693 L304.9 689.5 L305.8 690.6 L305.8 691.9 L306.8 691.1 L306.8 684.9 L307.6 685.9 L307.6 691 L308.5 692.1 L308.5 690.1 L309.5 691.6 L309.5 695.6 L310.3 695 L310.3 691.8 L311.2 692.5 L311.2 694.8 L312.1 694.9 L312.1 688.1 L312.9 690.6 L312.9 693.3 L313.9 695.6 L313.9 693.8 L314.8 695.9 L314.8 698.2 L315.6 698.9 L315.6 694.6 L316.6 690 L316.6 696.3 L317.5 699 L317.5 697.5 L318.3 696.4 L318.3 700.5 L319.3 700.7 L319.3 693.3 L320.2 701 L320.2 701.5 L321 699.8 L321 697 L322 693.4 L322 699.3 L322.9 693.4 L322.9 692.6 L323.7 694.7 L323.7 696 L324.7 700.9 L324.7 695.3 L325.6 695.9 L325.6 699.3 L326.4 696.9 L326.4 692.6 L327.3 692.2 L327.3 695.5 L328.3 698.6 L328.3 694.5 L329.2 696.2 L329.2 700.9 L330.2 700.1 L330.2 698.4 L331 696.9 L331 701.8 L331.9 700.9 L331.9 695.6 L332.9 696.5 L332.9 700.9 L333.7 702.7 L333.7 698.1 L334.6 698.4 L334.6 701 L335.5 697.5 L335.5 696.8 L336.4 698 L336.4 698.8" stroke="#4db1e3" stroke-width="1.6"/>
<path d="M111.2 693.2 L111.2 691.7 L112.2 692.8 L112.2 693.5 L113.1 693 L113.1 692.7 L114.1 691.6 L114.1 692.3 L114.9 693.2 L114.9 692.5 L115.8 692.1 L115.8 692.8 L116.8 693.2 L116.8 691.9 L117.6 691 L117.6 692.1 L118.5 691.9 L118.5 690.2 L119.4 690.5 L119.4 690.7 L120.2 691.4 L120.2 690 L121.2 689.3 L121.2 690.4 L122.1 691.8 L122.1 688.9 L122.9 688.4 L122.9 690.5 L123.9 689.9 L123.9 688.8 L124.8 687.4 L124.8 689.3 L125.6 688.6 L125.6 687 L126.6 686.4 L126.6 688.8 L127.5 687.3 L127.5 686.2 L128.3 686.6 L128.3 688.1 L129.3 686.8 L129.3 685.3 L130.2 685.8 L130.2 686.3 L131 685.6 L131 683.5 L131.9 684.8 L131.9 685.5 L132.9 683.7 L132.9 682.8 L133.7 682.7 L133.7 684.1 L134.6 684.5 L134.6 682.6 L135.6 682.7 L135.6 683.7 L136.5 683.1 L136.5 679.8 L137.5 679.8 L137.5 682.3 L138.3 682.3 L138.3 680.7 L139.2 678 L139.2 680.4 L140.2 682.1 L140.2 679.7 L141 677.8 L141 679.2 L141.9 679.6 L141.9 678.5 L142.8 676.8 L142.8 678.5 L143.7 677.7 L143.7 676.1 L144.6 675.5 L144.6 677.1 L145.5 678.1 L145.5 674.5 L146.3 674.6 L146.3 676.2 L147.3 674.9 L147.3 674 L148.2 673.1 L148.2 674.9 L149 676 L149 672.8 L150 670.3 L150 674.7 L150.9 672.5 L150.9 671.9 L151.7 671.3 L151.7 672.8 L152.7 671.3 L152.7 669.3 L153.6 669.1 L153.6 671.1 L154.4 669.9 L154.4 668.8 L155.4 667.4 L155.4 668.2 L156.3 668.7 L156.3 667 L157.1 667 L157.1 668.3 L158 665.2 L158 663.8 L159 665 L159 665.7 L159.9 665.2 L159.9 662.2 L160.9 660.2 L160.9 663.7 L161.7 663 L161.7 660.7 L162.6 658.3 L162.6 663.8 L163.6 662.5 L163.6 658.5 L164.4 655.7 L164.4 659.4 L165.3 658.6 L165.3 656.3 L166.2 656.3 L166.2 658.8 L167.1 657.8 L167.1 656.5 L168 654.2 L168 657.1 L168.9 654.9 L168.9 653.3 L169.7 652 L169.7 654.2 L170.7 654.3 L170.7 649.8 L171.6 651.4 L171.6 652 L172.4 649.4 L172.4 647 L173.4 645.4 L173.4 649.4 L174.3 646 L174.3 644.2 L175.1 642.2 L175.1 644.7 L176.1 641.9 L176.1 641.2 L177 637.2 L177 639 L177.8 640.9 L177.8 637.2 L178.8 635.3 L178.8 638.5 L179.7 635.2 L179.7 631.4 L180.5 628.8 L180.5 634.3 L181.4 633 L181.4 630.2 L182.4 624.9 L182.4 629.6 L183.2 627.6 L183.2 624.2 L184.1 623 L184.1 624.2 L185.1 621.9 L185.1 617.7 L186 617.4 L186 618.9 L187 616.6 L187 615.5 L187.8 612.1 L187.8 616.2 L188.7 612.1 L188.7 609.4 L189.7 607.6 L189.7 609.8 L190.5 609.8 L190.5 602.8 L191.4 599.3 L191.4 606.5 L192.3 602.9 L192.3 601.5 L193.1 596.5 L193.1 600.6 L194.1 599.2 L194.1 593.7 L195 591 L195 593.2 L195.8 590.9 L195.8 589.1 L196.8 584.4 L196.8 589.9 L197.7 584.1 L197.7 578.9 L198.5 579.5 L198.5 582.3 L199.5 581.4 L199.5 570.9 L200.4 569 L200.4 572.1 L201.2 572.1 L201.2 568.8 L202.2 563.3 L202.2 565.8 L203.1 565.8 L203.1 561.9 L203.9 558.7 L203.9 564 L204.9 562.2 L204.9 553.1 L205.8 549.5 L205.8 555.3 L206.6 546.9 L206.6 544 L207.5 538.9 L207.5 545 L208.5 540.1 L208.5 537 L209.4 529.3 L209.4 537.3 L210.4 533 L210.4 530.8 L211.2 520.7 L211.2 529.1 L212.1 526 L212.1 520.2 L213.1 513 L213.1 519.6 L213.9 517.8 L213.9 510.3 L214.8 506.2 L214.8 510.1 L215.7 506.2 L215.7 501.3 L216.6 495.7 L216.6 507.3 L217.5 499.9 L217.5 493.9 L218.4 491.7 L218.4 497 L219.2 497.5 L219.2 490.1 L220.2 488.4 L220.2 494.1 L221.1 492.5 L221.1 486.1 L221.9 482.2 L221.9 486.4 L222.9 487.1 L222.9 481.7 L223.8 479.8 L223.8 488.6 L224.6 483 L224.6 477.1 L225.6 480.2 L225.6 485.5 L226.5 481.6 L226.5 479.5 L227.3 481.2 L227.3 483.5 L228.3 481.6 L228.3 477.6 L229.2 477.4 L229.2 485.9 L230 480.8 L230 479.5 L230.9 480.5 L230.9 486.9 L231.9 489.1 L231.9 482.9 L232.8 481.5 L232.8 488.2 L233.8 489 L233.8 483.9 L234.6 489.4 L234.6 496.2 L235.5 497.4 L235.5 488.6 L236.5 493 L236.5 496.1 L237.3 504.6 L237.3 499.2 L238.2 503.8 L238.2 508.5 L239.2 511.8 L239.2 504.1 L240 512.9 L240 518.5 L240.9 523.5 L240.9 516 L241.8 522.9 L241.8 526.2 L242.6 530.6 L242.6 527.3 L243.6 529.5 L243.6 540 L244.5 540.5 L244.5 536 L245.3 540.5 L245.3 543.2 L246.3 551.2 L246.3 546.2 L247.2 553.8 L247.2 554.6 L248 557.5 L248 555.7 L249 557.7 L249 561.8 L249.9 565.9 L249.9 561.5 L250.7 568.1 L250.7 573.1 L251.7 577.3 L251.7 572.6 L252.6 572.6 L252.6 577.9 L253.4 581.8 L253.4 579.1 L254.3 583.4 L254.3 589 L255.3 589.7 L255.3 587.5 L256.1 589.5 L256.1 595.3 L257 599.9 L257 593.2 L258 603.4 L258 603.6 L258.9 607.8 L258.9 603.4 L259.9 606.5 L259.9 609.5 L260.7 611.9 L260.7 610.1 L261.6 618 L261.6 618.8 L262.6 624.7 L262.6 618.4 L263.4 623.4 L263.4 626.1 L264.3 629.5 L264.3 625.3 L265.2 630.3 L265.2 632.8 L266.1 635.4 L266.1 632.1 L267 636.6 L267 640.1 L267.9 641.4 L267.9 639.9 L268.7 640.5 L268.7 644.1 L269.7 646.9 L269.7 641.9 L270.6 646.1 L270.6 648.6 L271.4 648.6 L271.4 647.9 L272.4 650.6 L272.4 653.1 L273.3 655 L273.3 653.6 L274.1 653.7 L274.1 655.3 L275.1 659 L275.1 654.6 L276 654.2 L276 658.2 L276.8 659.9 L276.8 659.2 L277.8 659.2 L277.8 663.9 L278.7 662.7 L278.7 661.3 L279.5 664.2 L279.5 664.5 L280.4 665.9 L280.4 663.9 L281.4 664.4 L281.4 667.9 L282.3 668 L282.3 665.3 L283.3 667.6 L283.3 671.3 L284.1 673.1 L284.1 669.4 L285 667.9 L285 672.3 L286 671.5 L286 669.4 L286.8 672.4 L286.8 674.2 L287.7 674.9 L287.7 672.6 L288.6 674 L288.6 676.5 L289.5 675.5 L289.5 674.6 L290.4 675.9 L290.4 677.5 L291.3 678.7 L291.3 677.5 L292.1 677.6 L292.1 679.5 L293.1 679.8 L293.1 678.2 L294 680.9 L294 681.3 L294.8 681.5 L294.8 679.4 L295.8 680.7 L295.8 682.9 L296.7 683.6 L296.7 681.7 L297.5 682.5 L297.5 683.3 L298.5 684.2 L298.5 681 L299.4 682.4 L299.4 683.4 L300.2 686 L300.2 683.6 L301.2 683.7 L301.2 685.9 L302.1 685.9 L302.1 684.4 L302.9 685.5 L302.9 686.9 L303.8 686.7 L303.8 685.2 L304.8 686.4 L304.8 687 L305.6 687.5 L305.6 686.9 L306.5 687.1 L306.5 689.1 L307.5 689 L307.5 687.7 L308.4 688.3 L308.4 689.3 L309.4 689.7 L309.4 688.6 L310.2 687.9 L310.2 688.9 L311.1 689.8 L311.1 688.3 L312.1 689.2 L312.1 690.2 L312.9 690.4 L312.9 689.9 L313.8 689.1 L313.8 691.2 L314.7 691 L314.7 690.2 L315.5 690.3 L315.5 691.3 L316.5 691.8 L316.5 690.1 L317.4 691.1 L317.4 692.3 L318.2 692.1 L318.2 690.7 L319.2 690.9 L319.2 693.5 L320.1 692.2 L320.1 690.8 L320.9 692 L320.9 693 L321.9 692.7 L321.9 691.9 L322.8 692.5 L322.8 693.7 L323.6 693 L323.6 691.9 L324.6 691.2 L324.6 693.6 L325.5 694.3 L325.5 692.5 L326.3 692.7 L326.3 693.8 L327.3 694 L327.3 693 L328.2 693.2 L328.2 694.1 L329 694.2 L329 694 L329.9 692.8 L329.9 694.1 L330.9 694.4 L330.9 693.9 L331.8 694.1 L331.8 694.5 L332.8 694.8 L332.8 694.2 L333.6 694 L333.6 694.5 L334.5 695.5 L334.5 694.7 L335.5 694.3 L335.5 694.3 L336.3 694.5 L336.3 694.3" stroke="#64e4d6" stroke-width="2"/>
</g>
<line x1="228.3" y1="435" x2="228.3" y2="704" stroke="#6e6e6e" stroke-width="2" stroke-dasharray="15 15"/>
<g clip-path="url(#cc)" fill="none">
<path d="M84.8 681.9 L86.6 681.4 L88.4 680.9 L90.2 680.4 L92 679.8 L93.8 679.2 L95.6 678.6 L97.4 678 L99.2 677.4 L101 676.7 L102.8 676 L104.6 675.3 L106.3 674.6 L108.1 673.8 L109.9 673 L111.7 672.2 L113.5 671.3 L115.3 670.4 L117.1 669.5 L118.9 668.5 L120.7 667.6 L122.5 666.5 L124.3 665.4 L126.1 664.3 L127.9 663.1 L129.7 661.9 L131.5 660.7 L133.2 659.3 L135 658 L136.8 656.5 L138.6 655 L140.4 653.5 L142.2 651.8 L144 650.1 L145.8 648.3 L147.6 646.5 L149.4 644.5 L151.2 642.5 L153 640.4 L154.8 638.2 L156.6 635.9 L158.4 633.5 L160.2 631 L161.9 628.3 L163.7 625.5 L165.5 622.6 L167.3 619.6 L169.1 616.4 L170.9 613.2 L172.7 609.7 L174.5 606.1 L176.3 602.4 L178.1 598.5 L179.9 594.4 L181.7 590.2 L183.5 585.9 L185.3 581.4 L187.1 576.7 L188.8 571.8 L190.6 566.8 L192.4 561.7 L194.2 556.5 L196 551.2 L197.8 545.8 L199.6 540.3 L201.4 534.8 L203.2 529.4 L205 524.1 L206.8 518.7 L208.6 513.4 L210.4 508.4 L212.2 503.8 L214 499.4 L215.7 495.1 L217.5 491.2 L219.3 488.1 L221.1 485.9 L222.9 484 L224.7 482.3 L226.5 481.1 L228.3 480.7 L230.1 481.6 L231.9 483.7 L233.7 486.6 L235.5 490.5 L237.3 496.7 L239.1 504.1 L240.9 511.6 L242.6 518.8 L244.4 526.4 L246.2 534.3 L248 542.2 L249.8 549.9 L251.6 557.4 L253.4 564.8 L255.2 572.2 L257 579.6 L258.8 587.2 L260.6 594.9 L262.4 602.8 L264.2 611.9 L266 621.3 L267.8 630.1 L269.5 637.8 L271.3 643.9 L273.1 649.2 L274.9 653.8 L276.7 657.9 L278.5 661.7 L280.3 665 L282.1 668.1 L283.9 670.9 L285.7 673.6 L287.5 675.9 L289.3 678.1 L291.1 680.1 L292.9 682 L294.7 683.6 L296.4 685.2 L298.2 686.5 L300 687.8 L301.8 688.9 L303.6 690 L305.4 690.9 L307.2 691.8 L309 692.6 L310.8 693.3 L312.6 693.9 L314.4 694.6 L316.2 695.1 L318 695.6 L319.8 696.1 L321.6 696.6 L323.4 697 L325.1 697.4 L326.9 697.8 L328.7 698.2 L330.5 698.5 L332.3 698.7 L334.1 699 L335.9 699.2" stroke="#145a82" stroke-width="2.3" stroke-dasharray="9 5.5"/>
<path d="M112.6 689 L114.4 688.5 L116.2 688 L118 687.4 L119.8 686.8 L121.6 686.1 L123.4 685.4 L125.2 684.7 L127 683.9 L128.8 683.1 L130.6 682.3 L132.4 681.4 L134.1 680.6 L135.9 679.6 L137.7 678.7 L139.5 677.7 L141.3 676.7 L143.1 675.6 L144.9 674.4 L146.7 673.3 L148.5 672 L150.3 670.7 L152.1 669.4 L153.9 667.9 L155.7 666.5 L157.5 665 L159.3 663.4 L161 661.7 L162.8 660 L164.6 658.1 L166.4 656.1 L168.2 653.9 L170 651.5 L171.8 648.9 L173.6 645.9 L175.4 642.7 L177.2 639.2 L179 635.4 L180.8 631.4 L182.6 627.1 L184.4 622.7 L186.2 618.2 L187.9 613.5 L189.7 608.6 L191.5 603.4 L193.3 598 L195.1 592.3 L196.9 586.3 L198.7 580 L200.5 573.3 L202.3 566.3 L204.1 558.8 L205.9 550.8 L207.7 542.2 L209.5 533.4 L211.3 524.8 L213.1 515.9 L214.8 507.9 L216.6 501 L218.4 494.6 L220.2 489.5 L222 486.3 L223.8 483.9 L225.6 482 L227.4 480.9 L229.2 481 L231 482.9 L232.8 486 L234.6 490 L236.4 496.5 L238.2 504.5 L240 512.9 L241.8 522.1 L243.5 532.3 L245.3 542.3 L247.1 551.7 L248.9 560.8 L250.7 569.6 L252.5 578 L254.3 586.2 L256.1 594.2 L257.9 601.9 L259.7 609.6 L261.5 617.3 L263.3 624.5 L265.1 631.1 L266.9 637.1 L268.7 642.2 L270.4 646.6 L272.2 650.7 L274 654.4 L275.8 657.7 L277.6 660.8 L279.4 663.6 L281.2 666.2 L283 668.6 L284.8 670.8 L286.6 672.9 L288.4 674.7 L290.2 676.5 L292 678.1 L293.8 679.6 L295.6 681 L297.3 682.3 L299.1 683.5 L300.9 684.6 L302.7 685.6 L304.5 686.6 L306.3 687.5 L308.1 688.4 L309.9 689.2 L311.7 689.9 L313.5 690.5 L315.3 691 L317.1 691.4 L318.9 691.9 L320.7 692.2 L322.5 692.6 L324.2 692.9 L326 693.2 L327.8 693.5 L329.6 693.8 L331.4 694 L333.2 694.3 L335 694.5" stroke="#1e786e" stroke-width="2.3" stroke-dasharray="9 5.5"/>
</g>
<rect x="67" y="435" width="269" height="269" fill="none" stroke="#000" stroke-width="2"/>
<line x1="67" y1="480.7" x2="73.5" y2="480.7" stroke="#000" stroke-width="2"/>
<line x1="120.7" y1="704" x2="120.7" y2="697.5" stroke="#000" stroke-width="2"/>
<line x1="174.5" y1="704" x2="174.5" y2="697.5" stroke="#000" stroke-width="2"/>
<line x1="228.3" y1="704" x2="228.3" y2="697.5" stroke="#000" stroke-width="2"/>
<line x1="282.1" y1="704" x2="282.1" y2="697.5" stroke="#000" stroke-width="2"/>
<g font-family='"Liberation Sans", sans-serif' fill="#000">
<text transform="translate(53.5 710.8) scale(1 1.06)" x="0" y="0" font-size="20" text-anchor="end" font-weight="normal">0</text>
<text transform="translate(53.5 487.6) scale(1 1.06)" x="0" y="0" font-size="20" text-anchor="end" font-weight="normal">1</text>
<text transform="translate(66.9 726.8) scale(1 1.06)" x="0" y="0" font-size="20" text-anchor="middle" font-weight="normal">-180</text>
<text transform="translate(120.7 726.8) scale(1 1.06)" x="0" y="0" font-size="20" text-anchor="middle" font-weight="normal">-120</text>
<text transform="translate(174.5 726.8) scale(1 1.06)" x="0" y="0" font-size="20" text-anchor="middle" font-weight="normal">-60</text>
<text transform="translate(228.3 726.8) scale(1 1.06)" x="0" y="0" font-size="20" text-anchor="middle" font-weight="normal">0</text>
<text transform="translate(282.1 726.8) scale(1 1.06)" x="0" y="0" font-size="20" text-anchor="middle" font-weight="normal">60</text>
<text transform="translate(335.9 726.8) scale(1 1.06)" x="0" y="0" font-size="20" text-anchor="middle" font-weight="normal">120</text>
<text transform="translate(203.7 746.7) scale(1 1.04)" x="0" y="0" font-size="20" text-anchor="middle" font-weight="normal" textLength="124.5" lengthAdjust="spacingAndGlyphs">Energy (meV)</text>
<text transform="translate(26.1 678.7) rotate(-90) scale(1 1.04)" x="0" y="0" font-size="20" textLength="220" lengthAdjust="spacingAndGlyphs">Normalized PL Intensity</text>
<line x1="78" y1="450.6" x2="100.2" y2="450.6" stroke="#4db1e3" stroke-width="2.2"/>
<line x1="78" y1="473" x2="100.2" y2="473" stroke="#64e4d6" stroke-width="2.2"/>
<text transform="translate(104.5 457.4) scale(1 1.04)" x="0" y="0" font-size="20" text-anchor="start" font-weight="normal" textLength="64" lengthAdjust="spacingAndGlyphs">4.8 nm</text>
<text transform="translate(106 480) scale(1 1.04)" x="0" y="0" font-size="20" text-anchor="start" font-weight="normal" textLength="57" lengthAdjust="spacingAndGlyphs">13 nm</text>
</g>
<path d="M445.1 581.9a5.8 5.8 0 1 0 11.6 0a5.8 5.8 0 1 0 -11.6 0M460.9 573.8a5.8 5.8 0 1 0 11.6 0a5.8 5.8 0 1 0 -11.6 0M466.3 577.7a5.8 5.8 0 1 0 11.6 0a5.8 5.8 0 1 0 -11.6 0M437.9 595.1a5.8 5.8 0 1 0 11.6 0a5.8 5.8 0 1 0 -11.6 0M449.3 591.5a5.8 5.8 0 1 0 11.6 0a5.8 5.8 0 1 0 -11.6 0M451.1 594.1a5.8 5.8 0 1 0 11.6 0a5.8 5.8 0 1 0 -11.6 0M454.7 592.3a5.8 5.8 0 1 0 11.6 0a5.8 5.8 0 1 0 -11.6 0M456.5 595.3a5.8 5.8 0 1 0 11.6 0a5.8 5.8 0 1 0 -11.6 0M466 589.3a5.8 5.8 0 1 0 11.6 0a5.8 5.8 0 1 0 -11.6 0M463.6 598.9a5.8 5.8 0 1 0 11.6 0a5.8 5.8 0 1 0 -11.6 0M441.5 605.5a5.8 5.8 0 1 0 11.6 0a5.8 5.8 0 1 0 -11.6 0M445.7 603.7a5.8 5.8 0 1 0 11.6 0a5.8 5.8 0 1 0 -11.6 0M448.1 595.9a5.8 5.8 0 1 0 11.6 0a5.8 5.8 0 1 0 -11.6 0M499.2 580.8a5.8 5.8 0 1 0 11.6 0a5.8 5.8 0 1 0 -11.6 0M511.7 582.8a5.8 5.8 0 1 0 11.6 0a5.8 5.8 0 1 0 -11.6 0M518.1 578.8a5.8 5.8 0 1 0 11.6 0a5.8 5.8 0 1 0 -11.6 0M529.1 577.8a5.8 5.8 0 1 0 11.6 0a5.8 5.8 0 1 0 -11.6 0M512.1 563.9a5.8 5.8 0 1 0 11.6 0a5.8 5.8 0 1 0 -11.6 0M516.1 569.9a5.8 5.8 0 1 0 11.6 0a5.8 5.8 0 1 0 -11.6 0M528.1 541.9a5.8 5.8 0 1 0 11.6 0a5.8 5.8 0 1 0 -11.6 0M525.7 547.9a5.8 5.8 0 1 0 11.6 0a5.8 5.8 0 1 0 -11.6 0M527.1 553.9a5.8 5.8 0 1 0 11.6 0a5.8 5.8 0 1 0 -11.6 0M529.1 557.9a5.8 5.8 0 1 0 11.6 0a5.8 5.8 0 1 0 -11.6 0M524.1 560.9a5.8 5.8 0 1 0 11.6 0a5.8 5.8 0 1 0 -11.6 0M540.1 545.9a5.8 5.8 0 1 0 11.6 0a5.8 5.8 0 1 0 -11.6 0M547.1 542.9a5.8 5.8 0 1 0 11.6 0a5.8 5.8 0 1 0 -11.6 0M550 548.9a5.8 5.8 0 1 0 11.6 0a5.8 5.8 0 1 0 -11.6 0M554 551.9a5.8 5.8 0 1 0 11.6 0a5.8 5.8 0 1 0 -11.6 0M538.1 557.9a5.8 5.8 0 1 0 11.6 0a5.8 5.8 0 1 0 -11.6 0M544.1 559.9a5.8 5.8 0 1 0 11.6 0a5.8 5.8 0 1 0 -11.6 0M540.1 565.9a5.8 5.8 0 1 0 11.6 0a5.8 5.8 0 1 0 -11.6 0M549.1 563.9a5.8 5.8 0 1 0 11.6 0a5.8 5.8 0 1 0 -11.6 0M556 559.9a5.8 5.8 0 1 0 11.6 0a5.8 5.8 0 1 0 -11.6 0M563 563.9a5.8 5.8 0 1 0 11.6 0a5.8 5.8 0 1 0 -11.6 0M558 569.9a5.8 5.8 0 1 0 11.6 0a5.8 5.8 0 1 0 -11.6 0M554 573.9a5.8 5.8 0 1 0 11.6 0a5.8 5.8 0 1 0 -11.6 0M544.1 577.8a5.8 5.8 0 1 0 11.6 0a5.8 5.8 0 1 0 -11.6 0M547.1 578.8a5.8 5.8 0 1 0 11.6 0a5.8 5.8 0 1 0 -11.6 0M552 532.9a5.8 5.8 0 1 0 11.6 0a5.8 5.8 0 1 0 -11.6 0M554 538.9a5.8 5.8 0 1 0 11.6 0a5.8 5.8 0 1 0 -11.6 0M560 520a5.8 5.8 0 1 0 11.6 0a5.8 5.8 0 1 0 -11.6 0M568 522a5.8 5.8 0 1 0 11.6 0a5.8 5.8 0 1 0 -11.6 0M563 531.9a5.8 5.8 0 1 0 11.6 0a5.8 5.8 0 1 0 -11.6 0M566 533.9a5.8 5.8 0 1 0 11.6 0a5.8 5.8 0 1 0 -11.6 0M568 547.9a5.8 5.8 0 1 0 11.6 0a5.8 5.8 0 1 0 -11.6 0M573 547.9a5.8 5.8 0 1 0 11.6 0a5.8 5.8 0 1 0 -11.6 0M612 512a5.8 5.8 0 1 0 11.6 0a5.8 5.8 0 1 0 -11.6 0M602.1 518.3a5.8 5.8 0 1 0 11.6 0a5.8 5.8 0 1 0 -11.6 0M619 519.3a5.8 5.8 0 1 0 11.6 0a5.8 5.8 0 1 0 -11.6 0M578.2 540.9a5.8 5.8 0 1 0 11.6 0a5.8 5.8 0 1 0 -11.6 0M594.1 544.8a5.8 5.8 0 1 0 11.6 0a5.8 5.8 0 1 0 -11.6 0M601.1 547.8a5.8 5.8 0 1 0 11.6 0a5.8 5.8 0 1 0 -11.6 0M597.1 550.8a5.8 5.8 0 1 0 11.6 0a5.8 5.8 0 1 0 -11.6 0M582.1 558.8a5.8 5.8 0 1 0 11.6 0a5.8 5.8 0 1 0 -11.6 0M584.1 559.8a5.8 5.8 0 1 0 11.6 0a5.8 5.8 0 1 0 -11.6 0M599.7 565.8a5.8 5.8 0 1 0 11.6 0a5.8 5.8 0 1 0 -11.6 0M613 553.8a5.8 5.8 0 1 0 11.6 0a5.8 5.8 0 1 0 -11.6 0M617.6 551.4a5.8 5.8 0 1 0 11.6 0a5.8 5.8 0 1 0 -11.6 0M633 539.5a5.8 5.8 0 1 0 11.6 0a5.8 5.8 0 1 0 -11.6 0M639.9 541.5a5.8 5.8 0 1 0 11.6 0a5.8 5.8 0 1 0 -11.6 0M664.5 551.4a5.8 5.8 0 1 0 11.6 0a5.8 5.8 0 1 0 -11.6 0M655.5 562.2a5.8 5.8 0 1 0 11.6 0a5.8 5.8 0 1 0 -11.6 0M578.2 578.7a5.8 5.8 0 1 0 11.6 0a5.8 5.8 0 1 0 -11.6 0" fill="none" stroke="#4f5ee6" stroke-width="1.4"/>
<path d="M437.9 620.4a5.8 5.8 0 1 0 11.6 0a5.8 5.8 0 1 0 -11.6 0M445.1 623.4a5.8 5.8 0 1 0 11.6 0a5.8 5.8 0 1 0 -11.6 0M448.7 622.2a5.8 5.8 0 1 0 11.6 0a5.8 5.8 0 1 0 -11.6 0M441.5 627a5.8 5.8 0 1 0 11.6 0a5.8 5.8 0 1 0 -11.6 0M448.7 629.4a5.8 5.8 0 1 0 11.6 0a5.8 5.8 0 1 0 -11.6 0M454.7 628.2a5.8 5.8 0 1 0 11.6 0a5.8 5.8 0 1 0 -11.6 0M460.7 618.6a5.8 5.8 0 1 0 11.6 0a5.8 5.8 0 1 0 -11.6 0M459.5 627a5.8 5.8 0 1 0 11.6 0a5.8 5.8 0 1 0 -11.6 0M466 626.4a5.8 5.8 0 1 0 11.6 0a5.8 5.8 0 1 0 -11.6 0M464.2 630.6a5.8 5.8 0 1 0 11.6 0a5.8 5.8 0 1 0 -11.6 0M463.6 632.4a5.8 5.8 0 1 0 11.6 0a5.8 5.8 0 1 0 -11.6 0M455.9 623.4a5.8 5.8 0 1 0 11.6 0a5.8 5.8 0 1 0 -11.6 0M498.2 614.8a5.8 5.8 0 1 0 11.6 0a5.8 5.8 0 1 0 -11.6 0M512.1 620.8a5.8 5.8 0 1 0 11.6 0a5.8 5.8 0 1 0 -11.6 0M511.1 610.8a5.8 5.8 0 1 0 11.6 0a5.8 5.8 0 1 0 -11.6 0M517.1 596.8a5.8 5.8 0 1 0 11.6 0a5.8 5.8 0 1 0 -11.6 0M516.1 605.8a5.8 5.8 0 1 0 11.6 0a5.8 5.8 0 1 0 -11.6 0M525.1 608.8a5.8 5.8 0 1 0 11.6 0a5.8 5.8 0 1 0 -11.6 0M529.1 612.8a5.8 5.8 0 1 0 11.6 0a5.8 5.8 0 1 0 -11.6 0M527.1 616.8a5.8 5.8 0 1 0 11.6 0a5.8 5.8 0 1 0 -11.6 0M540.1 603.8a5.8 5.8 0 1 0 11.6 0a5.8 5.8 0 1 0 -11.6 0M543.1 608.8a5.8 5.8 0 1 0 11.6 0a5.8 5.8 0 1 0 -11.6 0M546.1 612.8a5.8 5.8 0 1 0 11.6 0a5.8 5.8 0 1 0 -11.6 0M538.1 618.8a5.8 5.8 0 1 0 11.6 0a5.8 5.8 0 1 0 -11.6 0M544.1 622.8a5.8 5.8 0 1 0 11.6 0a5.8 5.8 0 1 0 -11.6 0M551 598.8a5.8 5.8 0 1 0 11.6 0a5.8 5.8 0 1 0 -11.6 0M554 607.8a5.8 5.8 0 1 0 11.6 0a5.8 5.8 0 1 0 -11.6 0M553 585.8a5.8 5.8 0 1 0 11.6 0a5.8 5.8 0 1 0 -11.6 0M562 591.8a5.8 5.8 0 1 0 11.6 0a5.8 5.8 0 1 0 -11.6 0M566 596.8a5.8 5.8 0 1 0 11.6 0a5.8 5.8 0 1 0 -11.6 0M563 603.8a5.8 5.8 0 1 0 11.6 0a5.8 5.8 0 1 0 -11.6 0M562 611.8a5.8 5.8 0 1 0 11.6 0a5.8 5.8 0 1 0 -11.6 0M550 617.8a5.8 5.8 0 1 0 11.6 0a5.8 5.8 0 1 0 -11.6 0M556 626.7a5.8 5.8 0 1 0 11.6 0a5.8 5.8 0 1 0 -11.6 0M560 620.8a5.8 5.8 0 1 0 11.6 0a5.8 5.8 0 1 0 -11.6 0M572 593.8a5.8 5.8 0 1 0 11.6 0a5.8 5.8 0 1 0 -11.6 0M572 601.8a5.8 5.8 0 1 0 11.6 0a5.8 5.8 0 1 0 -11.6 0M573 619.8a5.8 5.8 0 1 0 11.6 0a5.8 5.8 0 1 0 -11.6 0M595.1 592.1a5.8 5.8 0 1 0 11.6 0a5.8 5.8 0 1 0 -11.6 0M601.1 600.7a5.8 5.8 0 1 0 11.6 0a5.8 5.8 0 1 0 -11.6 0M633 593.3a5.8 5.8 0 1 0 11.6 0a5.8 5.8 0 1 0 -11.6 0M664.9 595.7a5.8 5.8 0 1 0 11.6 0a5.8 5.8 0 1 0 -11.6 0M655.5 604a5.8 5.8 0 1 0 11.6 0a5.8 5.8 0 1 0 -11.6 0M612 602.6a5.8 5.8 0 1 0 11.6 0a5.8 5.8 0 1 0 -11.6 0M619 600.7a5.8 5.8 0 1 0 11.6 0a5.8 5.8 0 1 0 -11.6 0M613 607.6a5.8 5.8 0 1 0 11.6 0a5.8 5.8 0 1 0 -11.6 0M617 613.2a5.8 5.8 0 1 0 11.6 0a5.8 5.8 0 1 0 -11.6 0M639.5 613.6a5.8 5.8 0 1 0 11.6 0a5.8 5.8 0 1 0 -11.6 0M597.1 613.6a5.8 5.8 0 1 0 11.6 0a5.8 5.8 0 1 0 -11.6 0M602.1 614.6a5.8 5.8 0 1 0 11.6 0a5.8 5.8 0 1 0 -11.6 0M599.7 619.6a5.8 5.8 0 1 0 11.6 0a5.8 5.8 0 1 0 -11.6 0M577.2 607.6a5.8 5.8 0 1 0 11.6 0a5.8 5.8 0 1 0 -11.6 0M583.1 613.6a5.8 5.8 0 1 0 11.6 0a5.8 5.8 0 1 0 -11.6 0M584.2 615.2a5.8 5.8 0 1 0 11.6 0a5.8 5.8 0 1 0 -11.6 0M577.8 622.6a5.8 5.8 0 1 0 11.6 0a5.8 5.8 0 1 0 -11.6 0" fill="none" stroke="#ff3d0a" stroke-width="1.4"/>
<path d="M444.9 590.8 L448.7 589.9 L452.5 588.9 L456.3 588 L460 587 L463.8 586.1 L467.6 585.1 L471.4 584.1 L475.2 583.2 L479 582.2 L482.8 581.2 L486.6 580.2 L490.3 579.2 L494.1 578.2 L497.9 577.2 L501.7 576.2 L505.5 575.2 L509.3 574.2 L513.1 573.1 L516.8 572.1 L520.6 571.1 L524.4 570 L528.2 569 L532 567.9 L535.8 566.9 L539.6 565.8 L543.3 564.8 L547.1 563.7 L550.9 562.6 L554.7 561.5 L558.5 560.5 L562.3 559.4 L566.1 558.3 L569.9 557.2 L573.6 556.1 L577.4 555 L581.2 553.8 L585 552.7 L588.8 551.6 L592.6 550.5 L596.4 549.3 L600.1 548.2 L603.9 547 L607.7 545.9 L611.5 544.7 L615.3 543.6 L619.1 542.4 L622.9 541.2 L626.6 540.1 L630.4 538.9 L634.2 537.7 L638 536.5 L641.8 535.3 L645.6 534.1 L649.4 532.9 L653.2 531.7 L656.9 530.5 L660.7 529.3 L664.5 528 L668.3 526.8" fill="none" stroke="#000" stroke-width="2.4" stroke-dasharray="7.3 7.7"/>
<path d="M444.9 624.3 L448.7 623.8 L452.5 623.2 L456.4 622.7 L460.2 622.2 L464 621.7 L467.8 621.1 L471.6 620.6 L475.4 620.1 L479.3 619.6 L483.1 619.1 L486.9 618.6 L490.7 618.1 L494.5 617.6 L498.3 617.1 L502.2 616.6 L506 616.1 L509.8 615.6 L513.6 615.1 L517.4 614.6 L521.2 614.1 L525.1 613.7 L528.9 613.2 L532.7 612.7 L536.5 612.2 L540.3 611.8 L544.1 611.3 L548 610.8 L551.8 610.4 L555.6 609.9 L559.4 609.5 L563.2 609 L567 608.6 L570.9 608.1 L574.7 607.7 L578.5 607.2 L582.3 606.8 L586.1 606.4 L589.9 605.9 L593.8 605.5 L597.6 605.1 L601.4 604.7 L605.2 604.2 L609 603.8 L612.8 603.4 L616.7 603 L620.5 602.6 L624.3 602.2 L628.1 601.8 L631.9 601.4 L635.7 601 L639.6 600.6 L643.4 600.2 L647.2 599.8 L651 599.4 L654.8 599 L658.6 598.6 L662.5 598.3 L666.3 597.9 L670.1 597.5" fill="none" stroke="#000" stroke-width="2.4" stroke-dasharray="7.3 7.33"/>
<rect x="415" y="435" width="269" height="268.5" fill="none" stroke="#000" stroke-width="2"/>
<line x1="415" y1="649.8" x2="421.5" y2="649.8" stroke="#000" stroke-width="2"/>
<line x1="415" y1="596.1" x2="421.5" y2="596.1" stroke="#000" stroke-width="2"/>
<line x1="415" y1="542.4" x2="421.5" y2="542.4" stroke="#000" stroke-width="2"/>
<line x1="415" y1="488.7" x2="421.5" y2="488.7" stroke="#000" stroke-width="2"/>
<line x1="431.4" y1="703.5" x2="431.4" y2="697" stroke="#000" stroke-width="2"/>
<line x1="431.4" y1="435" x2="431.4" y2="441.5" stroke="#000" stroke-width="2"/>
<line x1="510.4" y1="703.5" x2="510.4" y2="697" stroke="#000" stroke-width="2"/>
<line x1="510.4" y1="435" x2="510.4" y2="441.5" stroke="#000" stroke-width="2"/>
<line x1="589.4" y1="703.5" x2="589.4" y2="697" stroke="#000" stroke-width="2"/>
<line x1="589.4" y1="435" x2="589.4" y2="441.5" stroke="#000" stroke-width="2"/>
<line x1="668.4" y1="703.5" x2="668.4" y2="697" stroke="#000" stroke-width="2"/>
<line x1="668.4" y1="435" x2="668.4" y2="441.5" stroke="#000" stroke-width="2"/>
<g font-family='"Liberation Sans", sans-serif' fill="#000">
<text transform="translate(411 710.1) scale(1 1.06)" x="0" y="0" font-size="20" text-anchor="end" font-weight="normal">0</text>
<text transform="translate(411 656.4) scale(1 1.06)" x="0" y="0" font-size="20" text-anchor="end" font-weight="normal">20</text>
<text transform="translate(411 602.7) scale(1 1.06)" x="0" y="0" font-size="20" text-anchor="end" font-weight="normal">40</text>
<text transform="translate(411 549) scale(1 1.06)" x="0" y="0" font-size="20" text-anchor="end" font-weight="normal">60</text>
<text transform="translate(411 495.3) scale(1 1.06)" x="0" y="0" font-size="20" text-anchor="end" font-weight="normal">80</text>
<text transform="translate(411 441.6) scale(1 1.06)" x="0" y="0" font-size="20" text-anchor="end" font-weight="normal">100</text>
<text transform="translate(431.4 727) scale(1 1.06)" x="0" y="0" font-size="20" text-anchor="middle" font-weight="normal">2.4</text>
<text transform="translate(510.4 727) scale(1 1.06)" x="0" y="0" font-size="20" text-anchor="middle" font-weight="normal">2.5</text>
<text transform="translate(589.4 727) scale(1 1.06)" x="0" y="0" font-size="20" text-anchor="middle" font-weight="normal">2.6</text>
<text transform="translate(668.4 727) scale(1 1.06)" x="0" y="0" font-size="20" text-anchor="middle" font-weight="normal">2.7</text>
<text transform="translate(431.4 425.8) scale(1 1.06)" x="0" y="0" font-size="20" text-anchor="middle" font-weight="normal">17</text>
<text transform="translate(510.4 425.8) scale(1 1.06)" x="0" y="0" font-size="20" text-anchor="middle" font-weight="normal">7.1</text>
<text transform="translate(589.4 425.8) scale(1 1.06)" x="0" y="0" font-size="20" text-anchor="middle" font-weight="normal">4.8</text>
<text transform="translate(668.4 425.8) scale(1 1.06)" x="0" y="0" font-size="20" text-anchor="middle" font-weight="normal">3.8</text>
<text transform="translate(549.5 404.8) scale(1 1.04)" x="0" y="0" font-size="20" text-anchor="middle" font-weight="normal" textLength="120" lengthAdjust="spacingAndGlyphs">QD Size (nm)</text>
<text transform="translate(549.9 747.4) scale(1 1.04)" x="0" y="0" font-size="20" text-anchor="middle" font-weight="normal" textLength="182" lengthAdjust="spacingAndGlyphs">PL Peak Energy (eV)</text>
<text transform="translate(374 632.3) rotate(-90) scale(1 1.04)" x="0" y="0" font-size="20" textLength="128.5" lengthAdjust="spacingAndGlyphs">HWHM (meV)</text>
<circle cx="432.8" cy="450.8" r="5.8" fill="none" stroke="#4f5ee6" stroke-width="1.4"/>
<circle cx="432.8" cy="472.9" r="5.8" fill="none" stroke="#ff3d0a" stroke-width="1.4"/>
<text transform="translate(449.5 457.6) scale(1 1.04)" x="0" y="0" font-size="20" text-anchor="start" font-weight="normal" textLength="107.5" lengthAdjust="spacingAndGlyphs">Low Energy</text>
<text transform="translate(449.5 479.1) scale(1 1.04)" x="0" y="0" font-size="20" text-anchor="start" font-weight="normal" textLength="112.5" lengthAdjust="spacingAndGlyphs">High Energy</text>
</g>
</svg>
</body></html>
